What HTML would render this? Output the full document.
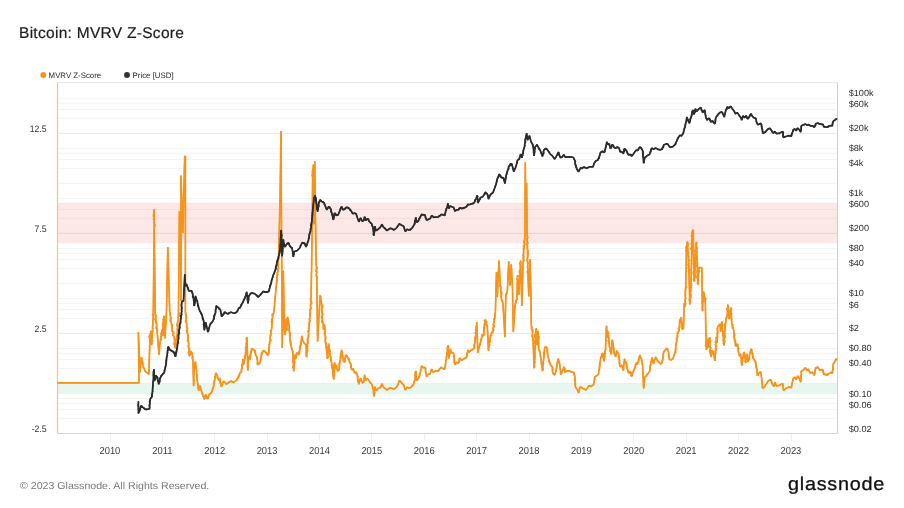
<!DOCTYPE html>
<html><head><meta charset="utf-8"><title>Bitcoin: MVRV Z-Score</title>
<style>
html,body{margin:0;padding:0;background:#fff}
body{width:904px;height:508px;position:relative;overflow:hidden;font-family:"Liberation Sans",sans-serif;text-rendering:geometricPrecision}
svg text{text-rendering:geometricPrecision}
.t{position:absolute;white-space:nowrap;transform-origin:0 0}
#title{left:19.0px;top:24.63px;font-size:15.5px;line-height:18px;color:#1d1d1d;letter-spacing:0.29px;-webkit-text-stroke:0.2px #1d1d1d}
.lg{top:71.28px;font-size:7.85px;line-height:10px;color:#2a2a2a}
#foot{left:19.6px;top:480.53px;font-size:10.0px;line-height:12px;color:#777;transform:scaleX(1.06)}
#logo{left:788.0px;top:471.59px;font-size:18.5px;line-height:24px;color:#111;letter-spacing:0.7px;transform:scaleX(1.07);-webkit-text-stroke:0.3px #111}
</style></head>
<body>
<svg width="904" height="508" viewBox="0 0 904 508" style="position:absolute;left:0;top:0">
<rect x="57.5" y="203.30" width="780.0" height="40.00" fill="#fde8e8"/>
<rect x="57.5" y="383.70" width="780.0" height="10.60" fill="#e7f6ef"/>
<line x1="58.0" x2="837.5" y1="418.42" y2="418.42" stroke="#000" stroke-opacity="0.052" stroke-width="1"/>
<line x1="58.0" x2="837.5" y1="409.62" y2="409.62" stroke="#000" stroke-opacity="0.052" stroke-width="1"/>
<line x1="58.0" x2="837.5" y1="403.37" y2="403.37" stroke="#000" stroke-opacity="0.052" stroke-width="1"/>
<line x1="58.0" x2="837.5" y1="398.52" y2="398.52" stroke="#000" stroke-opacity="0.052" stroke-width="1"/>
<line x1="58.0" x2="837.5" y1="383.46" y2="383.46" stroke="#000" stroke-opacity="0.052" stroke-width="1"/>
<line x1="58.0" x2="837.5" y1="368.40" y2="368.40" stroke="#000" stroke-opacity="0.052" stroke-width="1"/>
<line x1="58.0" x2="837.5" y1="359.60" y2="359.60" stroke="#000" stroke-opacity="0.052" stroke-width="1"/>
<line x1="58.0" x2="837.5" y1="353.35" y2="353.35" stroke="#000" stroke-opacity="0.052" stroke-width="1"/>
<line x1="58.0" x2="837.5" y1="348.50" y2="348.50" stroke="#000" stroke-opacity="0.052" stroke-width="1"/>
<line x1="58.0" x2="837.5" y1="333.44" y2="333.44" stroke="#000" stroke-opacity="0.052" stroke-width="1"/>
<line x1="58.0" x2="837.5" y1="318.38" y2="318.38" stroke="#000" stroke-opacity="0.052" stroke-width="1"/>
<line x1="58.0" x2="837.5" y1="309.58" y2="309.58" stroke="#000" stroke-opacity="0.052" stroke-width="1"/>
<line x1="58.0" x2="837.5" y1="303.33" y2="303.33" stroke="#000" stroke-opacity="0.052" stroke-width="1"/>
<line x1="58.0" x2="837.5" y1="298.48" y2="298.48" stroke="#000" stroke-opacity="0.052" stroke-width="1"/>
<line x1="58.0" x2="837.5" y1="283.42" y2="283.42" stroke="#000" stroke-opacity="0.052" stroke-width="1"/>
<line x1="58.0" x2="837.5" y1="268.36" y2="268.36" stroke="#000" stroke-opacity="0.052" stroke-width="1"/>
<line x1="58.0" x2="837.5" y1="259.56" y2="259.56" stroke="#000" stroke-opacity="0.052" stroke-width="1"/>
<line x1="58.0" x2="837.5" y1="253.31" y2="253.31" stroke="#000" stroke-opacity="0.052" stroke-width="1"/>
<line x1="58.0" x2="837.5" y1="248.46" y2="248.46" stroke="#000" stroke-opacity="0.052" stroke-width="1"/>
<line x1="58.0" x2="837.5" y1="233.40" y2="233.40" stroke="#000" stroke-opacity="0.052" stroke-width="1"/>
<line x1="58.0" x2="837.5" y1="218.34" y2="218.34" stroke="#000" stroke-opacity="0.052" stroke-width="1"/>
<line x1="58.0" x2="837.5" y1="209.54" y2="209.54" stroke="#000" stroke-opacity="0.052" stroke-width="1"/>
<line x1="58.0" x2="837.5" y1="203.29" y2="203.29" stroke="#000" stroke-opacity="0.052" stroke-width="1"/>
<line x1="58.0" x2="837.5" y1="198.44" y2="198.44" stroke="#000" stroke-opacity="0.052" stroke-width="1"/>
<line x1="58.0" x2="837.5" y1="183.38" y2="183.38" stroke="#000" stroke-opacity="0.052" stroke-width="1"/>
<line x1="58.0" x2="837.5" y1="168.32" y2="168.32" stroke="#000" stroke-opacity="0.052" stroke-width="1"/>
<line x1="58.0" x2="837.5" y1="159.52" y2="159.52" stroke="#000" stroke-opacity="0.052" stroke-width="1"/>
<line x1="58.0" x2="837.5" y1="153.27" y2="153.27" stroke="#000" stroke-opacity="0.052" stroke-width="1"/>
<line x1="58.0" x2="837.5" y1="148.42" y2="148.42" stroke="#000" stroke-opacity="0.052" stroke-width="1"/>
<line x1="58.0" x2="837.5" y1="133.36" y2="133.36" stroke="#000" stroke-opacity="0.052" stroke-width="1"/>
<line x1="58.0" x2="837.5" y1="118.30" y2="118.30" stroke="#000" stroke-opacity="0.052" stroke-width="1"/>
<line x1="58.0" x2="837.5" y1="109.50" y2="109.50" stroke="#000" stroke-opacity="0.052" stroke-width="1"/>
<line x1="58.0" x2="837.5" y1="103.25" y2="103.25" stroke="#000" stroke-opacity="0.052" stroke-width="1"/>
<line x1="58.0" x2="837.5" y1="98.4" y2="98.4" stroke="#000" stroke-opacity="0.04" stroke-width="1"/>
<line x1="58.0" x2="837.5" y1="133.30" y2="133.30" stroke="#000" stroke-opacity="0.05" stroke-width="1"/>
<line x1="58.0" x2="837.5" y1="233.30" y2="233.30" stroke="#000" stroke-opacity="0.05" stroke-width="1"/>
<line x1="58.0" x2="837.5" y1="333.30" y2="333.30" stroke="#000" stroke-opacity="0.05" stroke-width="1"/>
<line x1="57.5" x2="837.5" y1="82.5" y2="82.5" stroke="#e8e8e8" stroke-width="1"/>
<line x1="837.5" x2="837.5" y1="82.5" y2="433.3" stroke="#cfcfcf" stroke-width="1"/>
<line x1="57.5" x2="837.5" y1="433.5" y2="433.5" stroke="#d4d4d4" stroke-width="1"/>
<line x1="57.5" x2="57.5" y1="82.5" y2="433.3" stroke="#fbc27f" stroke-width="1.2"/>
<line x1="110.50" x2="110.50" y1="434" y2="441.5" stroke="#f0f0f0" stroke-width="1"/>
<line x1="162.50" x2="162.50" y1="434" y2="441.5" stroke="#f0f0f0" stroke-width="1"/>
<line x1="214.50" x2="214.50" y1="434" y2="441.5" stroke="#f0f0f0" stroke-width="1"/>
<line x1="267.50" x2="267.50" y1="434" y2="441.5" stroke="#f0f0f0" stroke-width="1"/>
<line x1="319.50" x2="319.50" y1="434" y2="441.5" stroke="#f0f0f0" stroke-width="1"/>
<line x1="371.50" x2="371.50" y1="434" y2="441.5" stroke="#f0f0f0" stroke-width="1"/>
<line x1="424.50" x2="424.50" y1="434" y2="441.5" stroke="#f0f0f0" stroke-width="1"/>
<line x1="476.50" x2="476.50" y1="434" y2="441.5" stroke="#f0f0f0" stroke-width="1"/>
<line x1="529.50" x2="529.50" y1="434" y2="441.5" stroke="#f0f0f0" stroke-width="1"/>
<line x1="581.50" x2="581.50" y1="434" y2="441.5" stroke="#f0f0f0" stroke-width="1"/>
<line x1="633.50" x2="633.50" y1="434" y2="441.5" stroke="#f0f0f0" stroke-width="1"/>
<line x1="686.50" x2="686.50" y1="434" y2="441.5" stroke="#f0f0f0" stroke-width="1"/>
<line x1="738.50" x2="738.50" y1="434" y2="441.5" stroke="#f0f0f0" stroke-width="1"/>
<line x1="791.50" x2="791.50" y1="434" y2="441.5" stroke="#f0f0f0" stroke-width="1"/>
<path d="M57.5 382.9 L139.0 382.9 L138.4 332.1 L139.4 358.6 L139.8 372.4 L141.3 357.3 L142.6 364.9 L145.1 371.2 L148.9 374.3 L149.9 338.4 L150.8 330.9 L151.7 344.8 L152.7 324.6 L153.3 312.0 L154.1 228.1 L154.2 209.2 L154.3 234.4 L155.2 312.0 L157.1 330.9 L159.0 354.8 L160.2 341.0 L162.1 329.6 L163.0 335.9 L164.0 315.8 L165.0 338.4 L166.5 312.0 L167.8 247.0 L169.7 312.0 L172.2 329.6 L174.1 337.2 L175.3 348.5 L177.2 333.4 L178.5 312.0 L179.4 211.1 L180.8 268.1 L181.0 300.9 L181.0 175.4 L182.9 233.1 L184.7 156.3 L185.4 156.3 L185.4 312.0 L186.7 324.6 L188.6 343.5 L189.2 356.1 L191.1 351.0 L192.3 355.4 L193.0 360.4 L193.6 386.2 L194.2 366.7 L195.5 361.6 L196.5 373.0 L197.6 383.0 L198.6 390.6 L199.9 385.6 L201.8 391.9 L204.3 399.4 L205.6 394.4 L207.5 398.8 L209.3 394.4 L211.9 391.9 L213.8 385.6 L215.6 373.0 L217.2 375.5 L218.8 380.5 L219.7 378.0 L221.3 386.8 L223.8 381.1 L226.3 384.3 L230.8 381.1 L233.3 382.4 L237.1 379.9 L239.6 373.6 L241.5 371.7 L243.0 359.1 L243.0 364.9 L244.3 362.4 L245.5 353.6 L247.0 337.2 L247.8 370.6 L248.7 356.1 L249.9 359.9 L251.8 348.5 L254.3 349.8 L255.6 354.8 L257.1 357.3 L257.9 364.9 L260.0 362.4 L261.3 356.1 L263.1 350.4 L265.7 352.3 L267.6 355.4 L268.8 352.3 L270.1 338.4 L271.7 328.4 L272.6 317.0 L273.9 312.0 L276.0 288.3 L277.0 277.0 L278.3 266.9 L279.5 221.8 L280.1 196.6 L281.0 131.1 L281.5 228.1 L281.8 273.2 L282.2 347.9 L283.3 270.7 L284.3 324.6 L284.6 334.7 L285.8 319.6 L286.4 330.9 L287.7 317.0 L289.0 324.6 L290.2 342.2 L291.5 347.3 L292.8 352.3 L293.8 371.2 L294.6 354.8 L295.9 358.6 L297.2 352.3 L299.1 354.8 L300.3 346.0 L301.9 335.9 L302.8 341.0 L304.7 343.5 L306.0 344.8 L306.6 357.3 L307.2 344.8 L308.5 334.7 L309.1 324.6 L310.4 312.0 L311.0 298.4 L311.6 266.9 L312.3 221.8 L312.6 177.3 L313.3 164.7 L314.0 224.3 L314.8 160.9 L315.5 221.8 L316.1 260.6 L316.8 279.5 L317.6 341.6 L320.1 295.2 L321.7 304.7 L322.4 319.6 L323.6 329.6 L324.6 324.6 L325.5 342.2 L326.8 352.3 L327.6 358.6 L328.6 343.5 L329.6 352.3 L331.2 359.9 L332.4 368.7 L333.7 379.4 L334.7 362.4 L335.6 368.7 L336.4 364.9 L337.5 371.2 L339.0 369.9 L340.2 359.9 L341.5 349.8 L342.5 354.8 L343.4 361.1 L344.4 362.4 L345.6 354.8 L347.5 357.3 L349.4 361.1 L350.7 363.6 L351.6 369.9 L353.2 368.7 L354.5 372.4 L356.0 373.7 L356.0 371.7 L357.3 375.5 L358.8 384.3 L360.4 378.0 L362.3 383.0 L363.8 381.8 L364.6 374.9 L365.8 380.5 L367.6 378.6 L369.6 381.8 L371.7 384.3 L373.0 388.1 L373.9 396.3 L374.9 386.8 L376.1 390.6 L378.7 388.1 L380.6 387.4 L381.8 383.7 L383.7 387.4 L386.9 390.0 L389.4 388.1 L391.9 388.1 L393.8 389.3 L396.3 387.4 L398.2 384.3 L399.4 380.5 L401.3 382.4 L403.6 384.9 L405.4 390.0 L407.0 387.4 L408.9 388.1 L411.4 386.8 L413.7 383.7 L414.9 379.3 L415.8 371.1 L416.7 380.5 L418.3 378.6 L420.2 373.0 L421.5 366.0 L423.4 367.9 L425.0 367.3 L426.5 376.8 L428.4 374.2 L430.1 373.6 L431.6 369.2 L433.5 372.3 L435.4 371.1 L438.5 371.1 L441.0 367.3 L442.9 368.6 L444.8 369.2 L445.7 362.9 L446.9 354.1 L447.9 345.3 L448.9 358.5 L450.2 349.0 L451.7 352.8 L453.6 353.4 L454.9 364.8 L456.8 362.3 L458.6 362.9 L459.9 357.9 L461.8 360.4 L464.3 358.5 L466.6 357.2 L467.8 350.3 L469.0 350.9 L469.0 352.3 L471.5 349.8 L474.0 348.5 L475.3 339.7 L476.8 322.1 L477.8 352.9 L479.1 347.3 L481.0 341.0 L482.2 334.7 L483.5 335.9 L485.4 319.6 L487.3 325.9 L488.5 351.0 L489.8 338.4 L491.7 332.8 L492.9 330.9 L494.2 320.8 L495.4 312.0 L496.5 271.9 L497.3 297.1 L499.0 260.6 L500.2 284.5 L501.5 298.4 L503.0 303.4 L504.9 337.2 L505.8 295.9 L507.4 290.8 L508.7 261.2 L509.9 285.8 L511.2 264.4 L512.5 288.3 L513.3 332.1 L515.0 305.9 L516.9 298.4 L517.5 275.1 L518.8 294.6 L519.8 277.0 L520.6 260.6 L521.9 305.9 L522.9 266.9 L523.8 250.5 L525.0 234.4 L525.3 162.2 L525.5 186.0 L526.6 183.0 L527.1 234.0 L527.6 255.6 L527.9 273.2 L528.8 296.5 L530.1 259.3 L531.0 298.4 L531.3 325.9 L532.6 333.4 L533.2 343.5 L534.1 368.1 L535.1 347.3 L536.0 328.4 L537.0 344.8 L538.0 330.9 L538.9 349.8 L540.2 353.6 L541.4 362.4 L542.4 371.2 L543.6 359.9 L544.6 348.5 L546.1 346.6 L547.1 348.5 L548.1 357.3 L549.6 362.4 L550.9 365.5 L551.9 366.2 L553.1 373.7 L554.6 375.0 L555.9 371.2 L557.2 363.6 L558.4 358.6 L559.7 364.9 L560.9 374.3 L562.5 371.2 L564.1 366.8 L565.0 372.4 L566.6 371.2 L568.5 370.9 L571.0 371.8 L573.5 372.4 L574.8 376.0 L575.5 387.1 L577.1 389.6 L578.8 392.8 L580.0 387.1 L581.8 387.8 L584.1 389.0 L586.2 389.9 L588.9 385.6 L591.0 386.5 L593.5 384.9 L594.8 377.0 L596.7 375.8 L598.6 373.9 L599.8 363.2 L601.1 356.9 L602.7 353.1 L604.0 361.3 L605.5 348.1 L606.5 325.9 L607.4 337.9 L608.3 331.6 L609.3 345.4 L610.3 349.2 L611.1 354.4 L612.4 339.8 L613.7 350.6 L615.6 356.9 L616.8 350.6 L618.7 354.4 L620.0 367.0 L621.9 365.1 L623.4 370.8 L624.4 358.8 L625.9 361.9 L627.5 369.5 L628.8 373.3 L630.3 371.4 L631.6 376.4 L633.2 372.0 L634.8 368.2 L636.3 362.6 L637.6 364.4 L638.9 358.1 L639.9 355.0 L641.4 358.8 L642.6 365.1 L643.6 388.4 L644.8 377.0 L646.4 375.8 L648.3 373.3 L649.6 371.4 L650.8 362.6 L652.1 357.5 L653.4 363.8 L655.6 356.9 L657.1 360.0 L660.3 363.8 L662.2 362.6 L663.7 351.9 L665.3 350.0 L666.6 348.1 L668.2 350.6 L669.5 359.4 L671.0 360.0 L672.9 358.8 L674.8 353.7 L675.7 348.0 L677.5 334.3 L679.1 330.5 L679.7 320.4 L681.3 317.3 L682.3 329.2 L683.5 328.6 L684.2 302.9 L684.9 307.0 L685.7 285.9 L686.4 252.0 L687.0 242.0 L687.6 242.0 L688.3 258.3 L689.0 273.0 L689.8 304.5 L691.0 284.0 L691.7 252.0 L692.0 232.0 L693.3 229.8 L693.6 260.0 L694.2 281.6 L694.9 273.0 L695.5 252.0 L696.4 242.0 L696.9 255.0 L697.4 270.0 L698.0 284.6 L699.0 267.5 L701.8 267.7 L702.4 311.1 L703.7 291.6 L705.3 300.4 L705.9 334.9 L706.5 350.0 L707.5 340.0 L708.3 347.6 L709.0 340.0 L709.7 337.4 L710.3 352.6 L710.9 357.0 L712.1 350.1 L713.4 353.9 L714.9 360.8 L715.7 347.5 L716.3 336.8 L717.1 342.9 L717.8 326.5 L719.7 324.0 L720.9 331.6 L721.8 321.5 L722.8 331.6 L724.1 345.4 L725.1 327.8 L726.0 320.2 L727.2 315.2 L727.9 304.5 L729.1 319.0 L730.8 307.6 L731.9 324.0 L733.5 329.0 L734.4 339.1 L735.4 344.2 L736.0 346.3 L737.3 343.8 L738.6 352.6 L739.8 356.4 L740.7 353.9 L741.7 365.8 L743.0 356.4 L744.2 352.0 L745.7 362.7 L746.8 353.9 L748.0 362.0 L749.3 356.4 L751.2 348.8 L752.4 355.1 L753.7 358.9 L755.6 361.4 L756.8 370.2 L757.5 375.9 L758.7 373.4 L760.6 371.5 L761.6 377.8 L762.5 387.9 L764.4 387.2 L766.3 384.1 L768.2 380.9 L770.7 379.7 L771.9 383.4 L773.8 386.6 L775.1 382.2 L776.4 386.0 L779.5 385.3 L782.6 383.4 L783.5 390.4 L785.8 388.5 L788.3 387.2 L791.5 387.6 L792.5 381.6 L793.0 380.3 L792.9 379.0 L794.6 377.1 L796.2 379.7 L797.7 375.9 L799.6 379.0 L800.6 382.2 L801.5 370.9 L803.4 370.2 L805.3 367.7 L807.2 370.9 L808.4 369.0 L810.3 373.4 L812.2 372.1 L814.3 375.3 L815.6 367.7 L817.9 367.1 L819.8 370.2 L822.9 369.6 L823.8 374.6 L825.4 374.0 L826.9 375.3 L829.2 373.4 L831.1 372.1 L832.4 373.4 L833.2 363.9 L834.9 361.4 L836.1 358.9 L837.1 360.1" fill="none" stroke="#f7931a" stroke-width="1.7" stroke-linejoin="bevel" stroke-linecap="butt"/>
<path d="M57.5 382.9 L139.0 382.9 L138.4 332.1 L139.4 358.6 L139.8 359.8 L140.2 361.1 L139.3 362.4 L140.4 363.6 L139.6 364.9 L139.9 366.1 L140.5 367.4 L139.7 368.7 L140.5 369.9 L139.9 371.2 L139.8 372.4 L139.2 371.1 L139.4 369.9 L140.1 368.7 L140.9 367.5 L139.8 366.1 L140.1 364.8 L140.9 363.7 L141.7 362.5 L141.1 361.1 L140.9 359.8 L142.2 358.7 L141.3 357.3 L142.4 358.5 L141.1 360.0 L142.4 361.1 L142.8 362.3 L143.1 363.5 L142.6 364.9 L143.4 366.0 L143.1 367.6 L144.6 368.5 L144.5 370.0 L145.1 371.2 L145.9 372.2 L147.1 372.6 L147.9 373.6 L148.9 374.3 L149.9 338.4 L149.0 337.1 L149.1 335.8 L149.6 334.6 L150.9 333.5 L150.5 332.1 L150.8 330.9 L151.3 332.1 L150.7 333.4 L151.1 334.7 L151.6 335.9 L150.5 337.2 L150.8 338.5 L152.0 339.7 L151.2 341.0 L151.4 342.2 L150.7 343.5 L151.7 344.8 L152.3 343.5 L151.3 342.2 L153.0 341.0 L151.0 339.7 L151.8 338.4 L152.7 337.2 L151.3 335.9 L152.1 334.7 L151.1 333.4 L152.7 332.2 L153.0 330.9 L152.6 329.6 L153.4 328.4 L152.1 327.1 L153.1 325.9 L152.7 324.6 L153.0 323.3 L153.0 322.1 L152.8 320.8 L153.7 319.6 L154.1 318.3 L153.0 317.0 L153.5 315.8 L152.1 314.5 L153.7 313.3 L153.3 312.0 L154.1 228.1 L154.4 226.8 L155.3 225.6 L154.9 224.3 L153.6 223.0 L153.8 221.8 L154.5 220.5 L153.0 219.3 L154.0 218.0 L153.3 216.7 L153.2 215.5 L153.1 214.2 L154.8 213.0 L153.3 211.7 L153.6 210.4 L154.2 209.2 L154.3 234.4 L155.2 312.0 L155.6 313.2 L154.6 314.6 L156.6 315.7 L155.8 317.0 L155.7 318.3 L155.0 319.6 L155.3 320.9 L155.3 322.2 L156.9 323.3 L156.7 324.6 L156.9 325.8 L155.8 327.2 L155.7 328.5 L157.8 329.5 L157.1 330.9 L159.0 354.8 L158.4 353.5 L158.6 352.2 L158.7 351.0 L159.4 349.8 L159.7 348.5 L159.1 347.2 L158.6 345.9 L159.7 344.7 L159.7 343.5 L160.3 342.2 L160.2 341.0 L161.5 339.9 L161.1 338.5 L160.9 337.2 L161.3 336.0 L161.7 334.7 L160.4 333.2 L162.6 332.3 L162.6 331.0 L162.1 329.6 L161.4 331.0 L161.8 332.2 L162.9 333.4 L163.1 334.6 L163.0 335.9 L162.1 334.6 L163.4 333.4 L162.1 332.1 L162.2 330.8 L162.6 329.6 L162.6 328.3 L163.1 327.1 L162.4 325.8 L162.4 324.5 L162.8 323.3 L162.7 322.0 L163.4 320.8 L162.7 319.5 L164.8 318.3 L164.2 317.1 L164.0 315.8 L165.0 338.4 L166.5 312.0 L167.8 247.0 L169.7 312.0 L170.7 313.1 L170.6 314.4 L170.6 315.7 L170.7 317.0 L171.5 318.2 L169.9 319.7 L169.8 321.0 L171.2 322.1 L171.3 323.3 L172.5 324.5 L172.6 325.7 L172.2 327.1 L172.6 328.3 L172.2 329.6 L171.7 331.1 L173.6 332.0 L174.2 333.1 L172.4 334.9 L173.7 335.9 L174.1 337.2 L175.1 338.4 L174.3 339.7 L175.6 340.8 L174.6 342.2 L173.7 343.6 L174.1 344.8 L174.6 346.1 L175.7 347.2 L175.3 348.5 L175.2 347.2 L174.9 345.9 L176.4 344.8 L176.0 343.5 L176.8 342.3 L175.9 340.9 L175.8 339.6 L177.3 338.5 L177.9 337.3 L177.8 336.0 L177.8 334.8 L177.2 333.4 L178.1 332.1 L178.0 330.8 L176.8 329.4 L177.6 328.1 L177.3 326.7 L176.6 325.3 L176.7 324.0 L177.3 322.7 L177.4 321.3 L178.5 320.1 L179.2 318.8 L178.0 317.3 L179.3 316.1 L179.5 314.7 L179.5 313.4 L178.5 312.0 L179.4 211.1 L180.8 268.1 L181.0 300.9 L181.0 175.4 L182.9 233.1 L184.7 156.3 L185.4 156.3 L185.4 312.0 L185.9 313.2 L186.3 314.5 L186.5 315.7 L186.6 317.0 L186.8 318.2 L185.9 319.6 L185.3 320.9 L185.6 322.2 L186.6 323.3 L186.7 324.6 L186.4 325.9 L186.2 327.2 L188.0 328.3 L186.8 329.7 L186.3 331.0 L186.8 332.2 L187.0 333.5 L187.7 334.7 L188.6 335.9 L187.2 337.3 L188.5 338.4 L187.5 339.8 L187.2 341.1 L188.7 342.2 L188.6 343.5 L188.9 344.7 L187.7 346.1 L188.2 347.3 L189.5 348.5 L189.7 349.7 L189.7 351.0 L188.1 352.3 L188.4 353.6 L189.9 354.8 L189.2 356.1 L190.3 355.1 L191.1 353.9 L190.9 352.4 L191.1 351.0 L191.7 352.1 L191.6 353.3 L192.8 354.1 L192.3 355.4 L193.5 356.6 L191.7 358.0 L192.5 359.2 L193.0 360.4 L193.6 386.2 L193.7 384.9 L194.3 383.6 L193.6 382.3 L194.3 381.0 L194.3 379.7 L193.4 378.4 L193.5 377.1 L193.6 375.8 L193.6 374.5 L194.2 373.2 L193.7 371.9 L194.0 370.6 L193.5 369.3 L194.9 368.0 L194.2 366.7 L194.3 365.3 L194.8 364.1 L195.3 362.9 L195.5 361.6 L194.8 363.0 L195.9 364.1 L195.1 365.5 L195.9 366.7 L196.0 367.9 L196.1 369.2 L197.1 370.4 L196.5 371.7 L196.5 373.0 L197.1 374.2 L197.6 375.4 L196.5 376.8 L197.6 377.9 L197.2 379.3 L197.0 380.6 L197.4 381.8 L197.6 383.0 L198.0 384.3 L197.9 385.6 L198.1 386.8 L197.9 388.1 L199.0 389.3 L198.6 390.6 L199.0 389.4 L198.9 388.0 L199.3 386.7 L199.9 385.6 L199.9 386.9 L200.6 388.1 L201.0 389.4 L201.1 390.7 L201.8 391.9 L201.7 393.3 L202.7 394.4 L202.9 395.7 L203.5 396.9 L203.9 398.2 L204.3 399.4 L204.9 398.2 L204.9 396.9 L205.3 395.7 L205.6 394.4 L206.1 395.5 L205.9 396.8 L206.7 397.8 L207.5 398.8 L208.4 397.9 L209.0 396.8 L208.6 395.3 L209.3 394.4 L210.2 393.6 L211.5 393.1 L211.9 391.9 L212.7 390.7 L212.1 389.2 L212.5 387.9 L213.3 386.8 L213.8 385.6 L213.3 384.2 L213.8 383.0 L213.7 381.7 L214.8 380.6 L215.1 379.3 L215.5 378.1 L214.5 376.7 L215.6 375.5 L215.7 374.3 L215.6 373.0 L216.9 373.9 L217.2 375.5 L217.0 376.9 L217.3 378.2 L218.8 379.1 L218.8 380.5 L219.9 379.5 L219.7 378.0 L220.1 379.2 L220.2 380.5 L219.7 381.9 L220.1 383.1 L221.3 384.2 L221.2 385.5 L221.3 386.8 L221.8 385.7 L222.1 384.5 L222.4 383.2 L223.1 382.2 L223.8 381.1 L224.4 382.4 L226.0 382.8 L226.3 384.3 L227.5 383.6 L228.5 382.7 L229.3 381.4 L230.8 381.1 L232.1 381.6 L233.3 382.4 L234.6 381.7 L235.8 380.7 L237.1 379.9 L236.9 378.4 L238.7 377.7 L239.0 376.3 L239.8 375.1 L239.6 373.6 L240.1 372.2 L241.5 371.7 L241.2 370.4 L241.0 369.1 L242.4 368.0 L241.7 366.6 L241.5 365.3 L242.2 364.1 L243.3 363.0 L243.3 361.7 L242.4 360.3 L243.0 359.1 L243.7 360.6 L242.2 362.0 L242.9 363.5 L243.0 364.9 L244.0 363.8 L244.3 362.4 L243.7 361.0 L243.8 359.7 L245.2 358.7 L244.8 357.3 L244.3 356.0 L246.2 354.9 L245.5 353.6 L245.9 352.3 L246.4 351.1 L245.0 349.7 L246.8 348.6 L245.1 347.2 L247.0 346.1 L246.2 344.7 L246.1 343.5 L246.7 342.2 L247.7 341.1 L246.2 339.7 L246.0 338.4 L247.0 337.2 L247.8 370.6 L247.9 369.2 L247.5 367.9 L247.3 366.6 L247.5 365.3 L247.4 363.9 L247.7 362.6 L248.0 361.3 L248.1 360.0 L249.0 358.7 L248.2 357.4 L248.7 356.1 L249.1 357.3 L250.1 358.4 L249.9 359.9 L249.8 358.6 L249.4 357.2 L250.1 356.0 L249.8 354.7 L251.5 353.6 L251.3 352.3 L250.7 350.9 L251.6 349.8 L251.8 348.5 L252.6 350.0 L254.3 349.8 L255.5 350.8 L254.3 352.5 L255.4 353.5 L255.6 354.8 L256.4 356.1 L257.1 357.3 L256.6 358.7 L257.6 359.8 L257.5 361.1 L257.3 362.4 L256.8 363.7 L257.9 364.9 L258.4 363.9 L259.8 363.6 L260.0 362.4 L260.6 361.2 L260.8 359.9 L260.6 358.6 L260.7 357.3 L261.3 356.1 L260.8 354.7 L261.3 353.6 L261.5 352.4 L263.3 351.7 L263.1 350.4 L264.7 350.9 L265.7 352.3 L266.9 353.0 L267.7 354.0 L267.6 355.4 L268.6 354.7 L269.1 353.6 L268.8 352.3 L269.3 351.1 L268.6 349.7 L268.6 348.5 L268.8 347.2 L269.3 346.0 L268.7 344.7 L269.5 343.5 L269.2 342.2 L271.0 341.1 L271.1 339.8 L270.1 338.4 L270.4 337.2 L269.9 335.8 L271.8 334.8 L270.4 333.3 L270.8 332.1 L270.1 330.7 L271.2 329.6 L271.7 328.4 L271.8 327.1 L271.9 325.9 L271.3 324.5 L272.1 323.3 L271.0 322.0 L271.7 320.8 L271.4 319.5 L272.3 318.3 L272.6 317.0 L271.8 315.5 L272.1 314.2 L273.1 313.1 L273.9 312.0 L276.0 288.3 L275.5 287.0 L276.4 285.8 L276.4 284.5 L277.0 283.3 L276.9 282.0 L277.2 280.8 L277.7 279.6 L276.6 278.2 L277.0 277.0 L276.8 275.7 L278.5 274.6 L276.6 273.1 L278.2 272.0 L278.1 270.7 L276.9 269.3 L278.9 268.2 L278.3 266.9 L279.5 221.8 L280.1 196.6 L281.0 131.1 L281.5 228.1 L281.8 273.2 L282.2 347.9 L283.3 270.7 L284.3 324.6 L283.4 325.9 L284.1 327.1 L283.8 328.4 L283.7 329.6 L285.3 330.9 L284.4 332.2 L284.5 333.4 L284.6 334.7 L285.5 333.5 L285.5 332.2 L285.7 331.0 L285.2 329.7 L286.0 328.5 L285.6 327.2 L285.8 325.9 L284.8 324.5 L284.4 323.2 L284.7 322.0 L285.4 320.8 L285.8 319.6 L286.8 320.8 L285.2 322.1 L285.9 323.3 L285.8 324.6 L285.9 325.9 L285.8 327.1 L286.3 328.4 L287.6 329.6 L286.4 330.9 L287.3 329.7 L287.3 328.4 L286.8 327.1 L287.0 325.9 L287.4 324.6 L286.1 323.2 L287.8 322.1 L286.8 320.8 L286.5 319.5 L287.0 318.2 L287.7 317.0 L287.4 318.4 L288.8 319.4 L287.8 320.9 L287.4 322.3 L288.8 323.3 L289.0 324.6 L289.3 325.8 L289.2 327.1 L288.8 328.4 L288.7 329.7 L289.1 330.9 L289.2 332.2 L290.6 333.3 L290.5 334.6 L290.4 335.9 L289.3 337.2 L290.4 338.4 L289.9 339.7 L291.3 340.9 L290.2 342.2 L291.5 343.2 L291.4 344.6 L290.8 346.1 L291.5 347.3 L291.4 348.6 L291.7 349.9 L292.9 350.9 L292.8 352.3 L292.8 353.6 L293.0 354.8 L293.0 356.1 L293.8 357.3 L292.3 358.6 L293.7 359.8 L292.3 361.2 L292.5 362.4 L294.3 363.6 L293.5 364.9 L292.9 366.2 L292.7 367.5 L293.7 368.7 L294.1 369.9 L293.8 371.2 L293.3 369.9 L294.7 368.7 L293.5 367.4 L294.2 366.2 L293.4 364.9 L294.2 363.6 L295.1 362.4 L293.6 361.1 L295.0 359.9 L294.5 358.6 L295.3 357.4 L295.0 356.1 L294.6 354.8 L295.6 355.9 L294.7 357.6 L295.9 358.6 L296.1 357.3 L295.5 355.9 L295.6 354.6 L296.9 353.6 L297.2 352.3 L298.2 353.5 L299.1 354.8 L298.8 353.5 L298.6 352.2 L299.3 351.0 L299.4 349.7 L300.7 348.6 L299.0 347.1 L300.3 346.0 L301.1 344.8 L301.5 343.6 L300.0 342.1 L302.1 341.1 L301.8 339.8 L302.5 338.6 L301.2 337.1 L301.9 335.9 L302.5 337.1 L302.6 338.4 L301.4 339.9 L302.8 341.0 L303.6 342.4 L304.7 343.5 L306.0 344.8 L306.4 346.0 L306.3 347.3 L306.7 348.5 L307.2 349.7 L307.1 351.0 L305.6 352.3 L306.9 353.5 L305.6 354.9 L307.0 356.1 L306.6 357.3 L306.2 356.1 L306.7 354.8 L306.1 353.5 L306.6 352.3 L307.9 351.1 L307.8 349.8 L307.7 348.6 L307.4 347.3 L308.1 346.1 L307.2 344.8 L308.4 343.6 L307.7 342.2 L308.2 341.0 L306.8 339.6 L308.6 338.5 L308.1 337.2 L308.9 336.0 L308.5 334.7 L308.9 333.4 L308.1 332.1 L307.6 330.8 L309.8 329.7 L308.0 328.3 L308.9 327.1 L308.7 325.8 L309.1 324.6 L308.8 323.3 L309.9 322.1 L310.6 320.9 L309.1 319.5 L310.1 318.3 L309.4 317.0 L310.1 315.8 L309.9 314.5 L309.5 313.2 L310.4 312.0 L309.6 310.6 L309.8 309.2 L311.5 308.0 L310.6 306.6 L310.0 305.2 L311.7 303.9 L312.0 302.5 L310.8 301.1 L310.1 299.7 L311.0 298.4 L311.6 266.9 L312.3 221.8 L312.6 177.3 L312.0 176.0 L311.8 174.7 L312.5 173.5 L311.9 172.2 L312.3 171.0 L312.4 169.7 L313.3 168.5 L314.1 167.3 L313.8 166.0 L313.3 164.7 L314.0 224.3 L314.8 160.9 L315.5 221.8 L316.1 260.6 L316.3 261.8 L316.4 263.1 L316.1 264.4 L316.5 265.6 L316.7 266.9 L317.4 268.1 L316.9 269.4 L315.3 270.7 L317.4 271.9 L316.5 273.2 L316.3 274.5 L315.8 275.7 L317.4 276.9 L317.3 278.2 L316.8 279.5 L317.6 341.6 L320.1 295.2 L320.9 296.5 L320.8 297.9 L320.9 299.3 L319.9 300.8 L320.4 302.1 L320.6 303.5 L321.7 304.7 L322.9 306.0 L323.0 307.3 L321.4 308.8 L321.0 310.1 L322.1 311.4 L321.9 312.8 L323.3 314.1 L322.4 315.5 L321.2 316.9 L321.5 318.2 L322.4 319.6 L321.7 320.9 L321.5 322.2 L323.4 323.3 L323.9 324.5 L324.0 325.8 L323.2 327.1 L323.0 328.4 L323.6 329.6 L324.9 328.6 L324.6 327.2 L324.7 325.9 L324.6 324.6 L324.0 325.9 L324.8 327.1 L324.7 328.4 L326.0 329.6 L324.2 330.9 L325.6 332.1 L324.0 333.5 L324.8 334.7 L325.6 335.9 L326.1 337.1 L325.9 338.4 L325.0 339.7 L325.0 341.0 L325.5 342.2 L326.6 343.4 L326.8 344.6 L325.9 346.0 L325.9 347.3 L326.5 348.5 L327.0 349.7 L326.4 351.1 L326.8 352.3 L327.9 353.4 L327.5 354.8 L327.4 356.1 L326.5 357.5 L327.6 358.6 L328.0 357.4 L328.6 356.1 L327.8 354.8 L327.4 353.5 L327.5 352.3 L329.1 351.1 L328.7 349.8 L327.9 348.5 L327.3 347.2 L328.5 346.0 L329.0 344.8 L328.6 343.5 L329.0 344.7 L329.5 345.9 L328.7 347.3 L328.3 348.6 L330.0 349.7 L330.5 350.9 L329.6 352.3 L330.2 353.5 L330.3 354.8 L330.0 356.2 L331.3 357.2 L330.3 358.7 L331.2 359.9 L330.9 361.2 L331.5 362.4 L332.2 363.6 L331.0 365.0 L332.4 366.1 L331.7 367.5 L332.4 368.7 L333.0 370.0 L333.2 371.3 L332.5 372.7 L333.4 374.0 L332.5 375.5 L333.4 376.7 L334.0 378.0 L333.7 379.4 L333.3 378.0 L333.7 376.8 L334.2 375.5 L334.7 374.2 L333.5 372.8 L334.0 371.5 L333.7 370.2 L335.1 369.0 L333.7 367.6 L333.7 366.3 L333.7 364.9 L334.4 363.7 L334.7 362.4 L334.1 363.7 L334.3 365.0 L334.8 366.2 L334.5 367.5 L335.6 368.7 L336.6 367.6 L335.9 366.1 L336.4 364.9 L337.2 366.1 L336.1 367.5 L336.6 368.7 L338.1 369.8 L337.5 371.2 L338.4 370.8 L339.0 369.9 L338.9 368.6 L339.1 367.4 L339.1 366.1 L339.0 364.8 L338.8 363.5 L339.5 362.3 L339.8 361.1 L340.2 359.9 L341.3 358.7 L339.8 357.2 L341.6 356.2 L340.3 354.7 L340.7 353.5 L341.9 352.4 L342.0 351.1 L341.5 349.8 L341.9 351.0 L342.9 352.1 L342.3 353.5 L342.5 354.8 L342.9 356.0 L342.0 357.5 L343.6 358.5 L343.5 359.8 L343.4 361.1 L344.4 362.4 L345.4 361.2 L343.9 359.7 L344.8 358.6 L345.8 357.4 L346.0 356.2 L345.6 354.8 L347.3 355.5 L347.5 357.3 L349.0 358.2 L349.6 359.5 L349.4 361.1 L349.3 362.7 L350.7 363.6 L351.3 364.8 L350.6 366.2 L350.5 367.5 L351.7 368.6 L351.6 369.9 L352.1 369.0 L353.2 368.7 L352.9 370.2 L353.9 371.3 L354.5 372.4 L355.5 372.8 L356.0 373.7 L356.3 372.7 L356.0 371.7 L356.7 372.9 L357.2 374.1 L357.3 375.5 L358.2 376.6 L357.3 378.1 L357.3 379.4 L357.9 380.6 L357.7 381.9 L359.2 382.9 L358.8 384.3 L358.7 382.9 L359.4 381.8 L360.4 380.7 L360.7 379.4 L360.4 378.0 L361.0 379.2 L361.7 380.4 L361.9 381.7 L362.3 383.0 L363.0 382.4 L363.8 381.8 L364.6 380.5 L363.6 379.0 L364.7 377.7 L364.8 376.3 L364.6 374.9 L364.4 376.4 L364.8 377.8 L365.3 379.1 L365.8 380.5 L366.5 379.4 L367.6 378.6 L368.5 379.5 L369.1 380.6 L369.6 381.8 L370.0 382.9 L371.5 383.1 L371.7 384.3 L372.6 385.4 L372.2 386.9 L373.0 388.1 L373.5 389.4 L373.9 390.7 L374.1 392.1 L373.5 393.5 L374.0 394.9 L373.9 396.3 L374.7 395.0 L374.7 393.6 L375.0 392.3 L374.1 390.8 L374.0 389.5 L374.2 388.1 L374.9 386.8 L375.3 388.1 L375.5 389.4 L376.1 390.6 L376.9 389.7 L377.6 388.7 L378.7 388.1 L379.6 387.7 L380.6 387.4 L381.1 386.2 L381.6 385.0 L381.8 383.7 L382.1 385.1 L382.6 386.4 L383.7 387.4 L384.6 388.5 L386.1 388.7 L386.9 390.0 L388.4 389.4 L389.4 388.1 L390.6 387.8 L391.9 388.1 L392.8 388.8 L393.8 389.3 L394.9 388.3 L396.3 387.4 L397.2 386.6 L397.2 385.1 L398.2 384.3 L398.3 382.9 L398.7 381.7 L399.4 380.5 L400.7 381.1 L401.3 382.4 L401.7 383.6 L402.8 384.2 L403.6 384.9 L404.3 386.1 L404.6 387.4 L404.3 388.9 L405.4 390.0 L406.2 388.7 L407.0 387.4 L408.1 387.4 L408.9 388.1 L410.4 387.8 L411.4 386.8 L412.3 385.9 L413.5 385.1 L413.7 383.7 L413.5 382.4 L414.3 381.5 L415.1 380.5 L414.9 379.3 L415.6 378.0 L415.9 376.6 L414.7 375.1 L415.2 373.8 L415.0 372.4 L415.8 371.1 L416.5 372.4 L415.3 373.8 L416.1 375.1 L415.7 376.5 L416.6 377.8 L416.0 379.2 L416.7 380.5 L417.5 379.5 L418.3 378.6 L418.4 377.4 L419.5 376.5 L420.1 375.5 L419.2 373.9 L420.2 373.0 L420.6 371.6 L420.9 370.2 L420.5 368.7 L421.0 367.4 L421.5 366.0 L422.9 366.5 L423.4 367.9 L425.0 367.3 L425.7 368.6 L425.9 369.9 L425.5 371.4 L425.6 372.7 L426.6 374.0 L427.1 375.3 L426.5 376.8 L427.3 375.3 L428.4 374.2 L430.1 373.6 L430.7 372.6 L430.3 371.2 L430.9 370.2 L431.6 369.2 L432.6 370.0 L432.4 371.5 L433.5 372.3 L434.4 371.8 L435.4 371.1 L436.9 370.3 L438.5 371.1 L438.8 369.4 L440.0 368.5 L441.0 367.3 L441.9 368.0 L442.9 368.6 L443.8 369.1 L444.8 369.2 L444.3 367.8 L444.5 366.6 L445.7 365.5 L445.3 364.1 L445.7 362.9 L445.4 361.6 L445.7 360.3 L447.1 359.2 L446.0 357.8 L446.7 356.6 L446.5 355.3 L446.9 354.1 L446.9 352.8 L448.0 351.6 L448.4 350.4 L447.2 349.0 L447.0 347.7 L448.3 346.6 L447.9 345.3 L448.7 346.5 L449.2 347.8 L447.4 349.3 L448.5 350.5 L447.8 351.9 L448.7 353.2 L447.9 354.6 L448.8 355.8 L449.5 357.1 L448.9 358.5 L448.2 357.0 L449.4 355.8 L449.8 354.5 L450.5 353.2 L449.0 351.6 L450.3 350.4 L450.2 349.0 L451.0 350.2 L451.2 351.6 L451.7 352.8 L452.9 352.4 L453.6 353.4 L454.2 354.7 L453.8 356.0 L453.2 357.3 L454.9 358.4 L454.3 359.7 L453.9 361.1 L453.7 362.4 L455.3 363.5 L454.9 364.8 L455.3 363.1 L456.8 362.3 L457.4 363.4 L458.6 362.9 L459.8 361.9 L459.2 360.4 L458.7 358.9 L459.9 357.9 L460.2 359.6 L461.8 360.4 L462.9 359.2 L464.3 358.5 L465.8 358.6 L466.6 357.2 L467.1 355.9 L467.7 354.6 L466.6 352.9 L468.2 351.8 L467.8 350.3 L469.0 350.9 L469.0 352.3 L469.4 351.0 L470.5 350.5 L471.5 349.8 L473.1 349.8 L474.0 348.5 L475.0 347.4 L473.7 345.9 L473.9 344.7 L474.5 343.5 L475.0 342.2 L474.8 340.9 L475.3 339.7 L474.5 338.4 L474.9 337.1 L476.2 336.0 L476.7 334.8 L474.7 333.3 L476.1 332.2 L476.7 330.9 L475.1 329.5 L477.1 328.4 L475.5 327.0 L476.7 325.9 L476.7 324.6 L477.0 323.4 L476.8 322.1 L477.8 352.9 L477.7 351.4 L478.3 350.1 L478.9 348.7 L479.1 347.3 L479.3 346.0 L480.2 344.8 L480.1 343.5 L480.4 342.2 L481.0 341.0 L480.1 339.5 L481.7 338.5 L481.7 337.2 L481.3 335.8 L482.2 334.7 L483.5 335.9 L484.3 334.7 L484.4 333.5 L483.8 332.1 L483.3 330.8 L484.1 329.6 L483.4 328.3 L483.6 327.0 L484.5 325.8 L483.8 324.5 L484.8 323.3 L485.1 322.1 L484.1 320.7 L485.4 319.6 L485.4 320.9 L487.1 321.8 L486.0 323.5 L486.2 324.8 L487.3 325.9 L488.5 351.0 L488.7 349.8 L487.8 348.4 L488.9 347.3 L488.7 346.0 L490.2 344.8 L488.4 343.4 L490.2 342.3 L490.7 341.1 L490.2 339.8 L489.8 338.4 L490.9 337.6 L489.8 335.9 L492.0 335.4 L491.3 333.9 L491.7 332.8 L493.2 332.4 L492.9 330.9 L494.1 329.8 L492.4 328.3 L494.1 327.2 L494.6 326.0 L492.7 324.5 L493.5 323.3 L494.6 322.2 L494.2 320.8 L493.6 319.4 L495.5 318.4 L494.2 317.0 L495.7 315.9 L494.2 314.4 L495.3 313.3 L495.4 312.0 L496.5 271.9 L497.3 297.1 L499.0 260.6 L500.2 284.5 L499.3 285.9 L501.2 287.0 L501.1 288.2 L500.7 289.6 L501.2 290.8 L502.0 292.0 L501.8 293.3 L502.0 294.5 L500.2 296.0 L500.9 297.2 L501.5 298.4 L501.0 299.9 L503.0 300.7 L502.0 302.4 L503.0 303.4 L504.9 337.2 L505.8 295.9 L505.3 294.3 L506.7 293.4 L507.3 292.2 L507.4 290.8 L508.7 261.2 L509.9 285.8 L509.7 284.4 L511.0 283.2 L510.3 281.8 L510.4 280.4 L511.2 279.1 L509.5 277.7 L511.7 276.5 L510.9 275.1 L510.4 273.7 L511.4 272.4 L510.2 271.0 L512.1 269.8 L511.1 268.4 L510.7 267.0 L511.7 265.7 L511.2 264.4 L512.5 288.3 L513.3 332.1 L515.0 305.9 L515.2 304.6 L514.8 303.2 L516.5 302.3 L515.2 300.6 L517.3 299.8 L516.9 298.4 L517.5 275.1 L518.2 276.3 L517.3 277.7 L516.6 279.1 L517.6 280.3 L517.5 281.6 L518.4 282.9 L519.3 284.1 L519.3 285.4 L519.1 286.7 L518.1 288.1 L518.6 289.4 L518.5 290.7 L517.6 292.1 L519.5 293.2 L518.8 294.6 L518.2 293.3 L519.3 292.1 L517.8 290.8 L517.8 289.5 L518.8 288.3 L518.2 287.0 L518.9 285.8 L518.7 284.5 L519.6 283.3 L519.7 282.0 L518.8 280.7 L519.9 279.5 L519.6 278.2 L519.8 277.0 L519.0 275.7 L520.9 274.5 L519.3 273.2 L519.2 271.9 L519.1 270.6 L520.5 269.4 L521.1 268.2 L521.0 266.9 L520.1 265.6 L519.9 264.3 L519.3 263.0 L520.9 261.9 L520.6 260.6 L521.9 305.9 L522.9 266.9 L523.1 265.6 L522.7 264.4 L523.5 263.1 L523.0 261.8 L524.3 260.7 L523.9 259.4 L522.8 258.0 L524.4 256.9 L522.4 255.5 L523.7 254.3 L523.4 253.0 L523.1 251.7 L523.8 250.5 L522.8 249.1 L524.7 247.9 L522.9 246.4 L524.3 245.2 L525.3 243.9 L523.5 242.4 L523.8 241.1 L524.9 239.8 L524.7 238.4 L525.1 237.1 L525.6 235.8 L525.0 234.4 L525.3 162.2 L525.5 186.0 L525.3 184.2 L526.6 183.0 L527.1 234.0 L527.6 235.3 L527.6 236.5 L528.3 237.8 L526.3 239.1 L526.6 240.4 L526.7 241.6 L528.5 242.9 L526.5 244.2 L526.8 245.4 L527.5 246.7 L526.8 248.0 L527.5 249.2 L528.1 250.5 L528.4 251.7 L528.1 253.0 L528.6 254.3 L527.6 255.6 L528.0 256.8 L527.0 258.1 L527.2 259.3 L526.8 260.6 L527.2 261.9 L528.3 263.1 L527.6 264.4 L527.9 265.6 L527.1 266.9 L527.8 268.2 L528.4 269.4 L527.5 270.7 L526.8 272.0 L527.9 273.2 L528.8 296.5 L530.1 259.3 L531.0 298.4 L531.3 325.9 L532.2 327.0 L530.9 328.5 L533.1 329.4 L532.7 330.8 L533.0 332.0 L532.6 333.4 L532.1 334.7 L531.7 336.0 L532.2 337.2 L533.3 338.4 L532.1 339.8 L533.5 340.9 L533.8 342.2 L533.2 343.5 L534.1 368.1 L534.9 366.8 L534.5 365.5 L534.7 364.2 L534.7 362.9 L535.3 361.6 L534.4 360.3 L535.2 359.0 L535.0 357.7 L535.4 356.4 L534.6 355.0 L535.3 353.8 L535.0 352.5 L534.5 351.1 L534.4 349.8 L535.3 348.6 L535.1 347.3 L534.2 346.0 L536.2 344.8 L534.5 343.4 L534.2 342.2 L534.5 340.9 L536.5 339.8 L535.2 338.4 L534.7 337.1 L534.5 335.9 L534.6 334.6 L536.2 333.4 L536.1 332.2 L536.4 330.9 L536.5 329.7 L536.0 328.4 L537.1 329.6 L535.9 330.9 L536.6 332.1 L535.6 333.5 L535.6 334.7 L535.5 336.0 L537.6 337.1 L535.7 338.5 L535.7 339.8 L535.7 341.0 L537.8 342.2 L537.6 343.4 L537.0 344.8 L536.2 343.4 L536.1 342.1 L538.1 341.0 L538.1 339.8 L537.8 338.5 L538.3 337.2 L538.0 336.0 L537.2 334.6 L536.9 333.3 L537.0 332.1 L538.0 330.9 L537.5 332.2 L538.8 333.4 L538.6 334.6 L538.4 335.9 L539.5 337.1 L539.0 338.4 L539.0 339.7 L538.0 341.0 L538.9 342.2 L539.0 343.5 L537.6 344.8 L538.7 346.0 L538.0 347.3 L538.6 348.5 L538.9 349.8 L540.3 350.7 L539.9 352.2 L540.2 353.6 L540.5 354.8 L540.0 356.2 L541.0 357.3 L540.5 358.7 L541.0 359.9 L541.8 361.0 L541.4 362.4 L540.9 363.7 L542.5 364.8 L541.3 366.2 L542.6 367.3 L543.0 368.6 L542.8 369.9 L542.4 371.2 L543.0 370.0 L543.5 368.8 L541.9 367.3 L542.9 366.2 L543.0 364.9 L543.7 363.7 L542.7 362.3 L543.4 361.1 L543.6 359.9 L543.4 358.6 L544.5 357.4 L543.4 356.0 L544.9 354.9 L543.7 353.5 L543.6 352.2 L544.8 351.1 L544.5 349.8 L544.6 348.5 L544.6 347.0 L546.1 346.6 L546.3 347.7 L547.1 348.5 L548.1 349.7 L546.8 351.1 L547.1 352.3 L547.1 353.6 L547.5 354.8 L548.2 356.0 L548.1 357.3 L548.7 358.5 L549.0 359.8 L548.5 361.3 L549.6 362.4 L550.7 363.1 L549.8 364.7 L550.9 365.5 L551.9 366.2 L552.9 367.3 L552.8 368.6 L552.9 369.9 L552.0 371.3 L552.9 372.5 L553.1 373.7 L554.0 374.2 L554.6 375.0 L555.7 373.9 L555.1 372.3 L555.9 371.2 L556.0 369.9 L556.4 368.7 L557.0 367.5 L557.2 366.2 L557.2 364.9 L557.2 363.6 L557.2 362.3 L557.5 361.0 L557.5 359.7 L558.4 358.6 L558.0 360.0 L558.6 361.2 L558.7 362.5 L560.0 363.5 L559.7 364.9 L560.0 366.2 L559.6 367.7 L560.1 369.0 L561.0 370.2 L560.6 371.6 L560.1 373.1 L560.9 374.3 L561.1 373.1 L561.5 372.0 L562.5 371.2 L562.5 370.0 L563.6 369.1 L564.2 368.1 L564.1 366.8 L564.9 368.1 L565.1 369.5 L565.2 371.0 L565.0 372.4 L565.6 371.6 L566.6 371.2 L567.6 371.1 L568.5 370.9 L569.9 370.8 L571.0 371.8 L572.3 371.9 L573.5 372.4 L574.4 373.5 L573.7 375.1 L574.8 376.0 L574.5 377.2 L575.5 378.4 L574.3 379.7 L575.7 380.9 L575.4 382.2 L574.6 383.5 L574.9 384.7 L575.1 385.9 L575.5 387.1 L576.4 388.3 L577.1 389.6 L578.1 390.5 L578.1 391.8 L578.8 392.8 L578.6 391.3 L579.0 389.9 L579.6 388.5 L580.0 387.1 L581.1 386.8 L581.8 387.8 L583.0 388.3 L584.1 389.0 L585.0 389.8 L586.2 389.9 L587.1 389.0 L587.5 387.8 L588.4 386.8 L588.9 385.6 L589.9 386.0 L591.0 386.5 L592.0 385.2 L593.5 384.9 L593.9 383.6 L593.8 382.2 L594.5 381.0 L595.0 379.7 L594.5 378.3 L594.8 377.0 L595.8 376.5 L596.7 375.8 L597.9 375.1 L598.6 373.9 L598.6 372.5 L598.4 371.2 L599.4 369.9 L599.8 368.6 L599.8 367.3 L599.9 365.9 L600.3 364.6 L599.8 363.2 L600.4 362.0 L600.6 360.7 L600.5 359.4 L600.5 358.1 L601.1 356.9 L601.9 355.7 L601.4 354.0 L602.7 353.1 L603.1 354.4 L602.6 355.9 L602.9 357.3 L603.3 358.6 L604.2 359.9 L604.0 361.3 L604.0 360.0 L604.2 358.6 L604.7 357.4 L604.4 356.0 L605.1 354.7 L605.8 353.5 L604.4 352.0 L605.5 350.8 L605.9 349.5 L605.5 348.1 L606.5 325.9 L606.9 327.2 L606.7 328.5 L605.7 330.0 L608.0 331.1 L606.9 332.5 L607.9 333.8 L606.5 335.3 L606.2 336.6 L607.4 337.9 L607.6 336.6 L606.8 335.2 L608.1 334.1 L608.2 332.8 L608.3 331.6 L607.8 332.9 L608.4 334.1 L608.2 335.4 L607.8 336.7 L608.7 337.9 L609.0 339.1 L607.8 340.5 L609.7 341.6 L608.6 342.9 L609.4 344.1 L609.3 345.4 L609.0 346.8 L610.8 347.7 L610.3 349.2 L609.4 350.7 L611.0 351.7 L611.9 352.9 L611.1 354.4 L610.8 353.0 L611.2 351.7 L610.4 350.3 L611.4 349.0 L611.5 347.7 L612.3 346.4 L611.6 345.0 L611.5 343.7 L611.5 342.4 L612.9 341.1 L612.4 339.8 L611.5 341.2 L612.7 342.5 L613.5 343.7 L612.3 345.3 L613.4 346.5 L614.0 347.8 L614.3 349.1 L613.7 350.6 L613.5 352.0 L613.8 353.3 L614.5 354.5 L615.2 355.6 L615.6 356.9 L615.9 355.7 L615.5 354.3 L617.3 353.3 L616.3 351.8 L616.8 350.6 L617.2 352.0 L617.5 353.4 L618.7 354.4 L618.2 355.7 L619.0 356.9 L619.5 358.1 L619.1 359.4 L620.1 360.6 L618.8 362.0 L619.9 363.2 L619.1 364.5 L620.3 365.7 L620.0 367.0 L620.8 365.9 L621.9 365.1 L622.6 366.1 L622.6 367.3 L623.3 368.3 L623.9 369.4 L623.4 370.8 L623.9 369.5 L623.2 368.1 L623.3 366.7 L623.5 365.4 L623.9 364.1 L623.9 362.8 L624.4 361.5 L624.6 360.1 L624.4 358.8 L625.1 359.7 L624.6 361.2 L625.9 361.9 L625.5 363.3 L627.2 364.3 L626.1 365.8 L626.3 367.1 L626.8 368.3 L627.5 369.5 L628.5 370.6 L627.8 372.2 L628.8 373.3 L629.7 372.5 L630.3 371.4 L631.4 372.4 L631.7 373.7 L630.5 375.3 L631.6 376.4 L632.2 375.4 L632.0 374.1 L632.2 372.9 L633.2 372.0 L633.2 370.5 L633.9 369.3 L634.8 368.2 L635.6 367.2 L635.2 365.9 L635.1 364.7 L636.8 363.9 L636.3 362.6 L636.5 363.8 L637.6 364.4 L637.2 363.1 L638.8 362.1 L638.6 360.7 L639.2 359.5 L638.9 358.1 L639.5 357.2 L640.3 356.3 L639.9 355.0 L639.8 356.5 L640.2 357.8 L641.4 358.8 L642.2 359.9 L641.5 361.4 L642.1 362.6 L641.9 363.9 L642.6 365.1 L643.6 388.4 L643.7 387.1 L644.4 385.9 L644.1 384.6 L643.8 383.3 L643.9 382.0 L643.9 380.8 L644.5 379.6 L644.0 378.2 L644.8 377.0 L645.6 376.4 L646.4 375.8 L646.9 374.2 L648.3 373.3 L648.9 372.3 L649.6 371.4 L649.7 370.1 L650.0 368.9 L650.7 367.7 L649.4 366.2 L651.1 365.2 L650.6 363.8 L650.8 362.6 L651.3 361.3 L651.8 360.1 L652.4 358.9 L652.1 357.5 L652.6 358.7 L652.7 360.0 L652.0 361.5 L653.9 362.4 L653.4 363.8 L654.0 362.7 L654.4 361.6 L653.6 360.1 L655.1 359.3 L655.6 358.2 L655.6 356.9 L655.3 358.3 L656.9 358.8 L657.1 360.0 L657.2 361.6 L658.7 361.9 L659.5 362.9 L660.3 363.8 L661.6 363.8 L662.2 362.6 L661.5 361.1 L663.0 359.9 L663.0 358.6 L662.6 357.2 L663.8 356.0 L663.0 354.5 L663.4 353.2 L663.7 351.9 L664.5 350.9 L665.3 350.0 L666.4 349.4 L666.6 348.1 L667.9 349.0 L668.2 350.6 L668.5 351.8 L668.7 353.1 L668.6 354.4 L668.3 355.7 L669.5 356.8 L668.6 358.2 L669.5 359.4 L671.0 360.0 L671.8 359.3 L672.9 358.8 L673.3 357.5 L673.4 356.1 L674.3 355.0 L674.8 353.7 L676.0 352.5 L675.6 350.9 L676.1 349.5 L675.7 348.0 L675.5 346.7 L675.6 345.5 L675.7 344.2 L676.6 343.0 L676.8 341.8 L677.4 340.6 L675.8 339.1 L677.5 338.1 L678.1 336.9 L677.4 335.6 L677.5 334.3 L677.0 332.6 L678.1 331.6 L679.1 330.5 L678.0 329.2 L678.5 327.9 L680.3 326.8 L679.7 325.5 L679.9 324.2 L680.2 323.0 L680.6 321.7 L679.7 320.4 L680.5 319.5 L681.0 318.5 L681.3 317.3 L681.1 318.6 L681.1 320.0 L681.4 321.3 L681.3 322.6 L682.5 323.9 L681.6 325.3 L682.2 326.5 L681.6 327.9 L682.3 329.2 L683.5 328.6 L684.2 302.9 L685.4 304.1 L685.4 305.5 L684.9 307.0 L683.8 305.6 L685.7 304.4 L686.0 303.1 L685.5 301.7 L684.8 300.4 L686.0 299.1 L685.9 297.8 L685.4 296.5 L684.8 295.1 L684.9 293.8 L685.3 292.5 L685.1 291.2 L685.4 289.8 L685.9 288.6 L686.7 287.3 L685.7 285.9 L686.4 252.0 L685.4 250.7 L686.7 249.5 L685.5 248.2 L685.8 246.9 L687.5 245.8 L687.0 244.5 L687.9 243.3 L687.0 242.0 L687.6 242.0 L687.8 243.2 L688.9 244.5 L688.0 245.7 L687.6 247.0 L686.8 248.3 L686.8 249.6 L688.0 250.8 L688.2 252.0 L689.0 253.2 L687.8 254.6 L688.9 255.8 L689.1 257.0 L688.3 258.3 L689.5 259.6 L689.6 260.9 L688.1 262.3 L689.5 263.6 L687.5 265.0 L689.7 266.3 L687.9 267.7 L689.7 268.9 L690.0 270.3 L688.4 271.7 L689.0 273.0 L689.8 304.5 L689.3 303.2 L690.5 302.0 L689.3 300.6 L689.0 299.3 L690.8 298.1 L690.8 296.8 L691.2 295.6 L691.0 294.3 L689.5 292.9 L690.9 291.7 L691.1 290.4 L690.6 289.1 L691.8 287.9 L690.3 286.5 L692.0 285.3 L691.0 284.0 L691.7 252.0 L692.2 250.7 L690.6 249.3 L690.6 248.0 L692.1 246.7 L692.6 245.3 L690.8 244.0 L691.4 242.7 L692.4 241.3 L691.1 240.0 L692.8 238.7 L691.9 237.3 L690.9 236.0 L691.6 234.7 L692.2 233.3 L692.0 232.0 L692.5 230.8 L693.3 229.8 L693.6 260.0 L693.2 261.3 L694.5 262.5 L693.0 263.8 L694.1 265.1 L693.4 266.4 L693.5 267.6 L694.0 268.9 L694.2 270.2 L693.2 271.5 L692.9 272.7 L693.3 274.0 L693.9 275.3 L694.6 276.5 L695.1 277.8 L693.0 279.1 L693.7 280.3 L694.2 281.6 L695.1 280.4 L694.0 279.1 L694.8 277.9 L695.7 276.8 L695.5 275.5 L695.0 274.2 L694.9 273.0 L694.5 271.7 L694.8 270.4 L695.9 269.1 L694.8 267.7 L695.5 266.5 L695.4 265.1 L696.1 263.8 L695.9 262.5 L694.7 261.2 L694.1 259.8 L694.7 258.5 L695.2 257.2 L695.6 255.9 L696.2 254.6 L696.4 253.3 L695.5 252.0 L694.5 250.7 L696.5 249.6 L696.6 248.3 L696.8 247.1 L696.2 245.8 L695.6 244.5 L697.1 243.3 L696.4 242.0 L695.7 243.3 L696.1 244.6 L695.6 245.9 L697.0 247.2 L697.6 248.5 L696.6 249.8 L696.0 251.1 L697.5 252.4 L696.3 253.7 L696.9 255.0 L695.9 256.3 L697.6 257.5 L696.8 258.8 L696.6 260.0 L697.2 261.2 L697.9 262.5 L697.8 263.7 L696.6 265.0 L696.6 266.3 L697.4 267.5 L698.3 268.7 L697.4 270.0 L696.7 271.4 L696.9 272.7 L698.2 274.0 L697.4 275.3 L696.7 276.7 L696.8 278.0 L697.7 279.3 L697.9 280.6 L697.7 282.0 L698.7 283.2 L698.0 284.6 L697.3 283.2 L697.4 281.9 L698.7 280.7 L698.0 279.3 L698.5 278.0 L698.2 276.7 L698.6 275.4 L697.8 274.0 L697.6 272.7 L700.0 271.5 L698.5 270.1 L698.0 268.8 L699.0 267.5 L700.4 267.9 L701.8 267.7 L702.4 311.1 L703.2 309.8 L701.7 308.4 L702.9 307.2 L702.4 305.9 L702.9 304.6 L701.8 303.2 L701.9 301.9 L704.3 300.8 L704.1 299.5 L703.2 298.1 L703.5 296.8 L702.9 295.5 L704.2 294.2 L703.4 292.9 L703.7 291.6 L702.9 293.0 L703.5 294.2 L703.6 295.5 L703.5 296.8 L705.4 297.8 L706.2 298.9 L705.3 300.4 L705.9 334.9 L706.7 336.1 L706.8 337.4 L707.0 338.6 L707.2 339.9 L706.0 341.2 L705.3 342.5 L706.3 343.7 L705.3 345.0 L705.4 346.3 L707.4 347.4 L706.2 348.8 L706.5 350.0 L706.4 348.7 L705.9 347.4 L707.9 346.4 L706.4 344.9 L707.3 343.8 L707.6 342.5 L708.5 341.4 L707.5 340.0 L707.2 341.3 L708.0 342.5 L708.0 343.8 L708.8 345.0 L707.1 346.4 L708.3 347.6 L709.5 346.4 L707.9 345.0 L707.6 343.7 L708.2 342.5 L708.5 341.2 L709.0 340.0 L710.3 339.0 L709.7 337.4 L708.8 338.7 L709.0 340.0 L710.9 341.2 L709.2 342.5 L709.5 343.8 L709.7 345.0 L708.9 346.3 L711.1 347.5 L710.9 348.8 L709.6 350.1 L709.3 351.4 L710.3 352.6 L710.1 354.1 L711.1 355.5 L710.9 357.0 L711.3 355.7 L711.9 354.3 L710.8 352.7 L711.5 351.4 L712.1 350.1 L713.0 351.2 L713.7 352.4 L713.4 353.9 L713.7 355.3 L714.7 356.5 L714.8 357.9 L715.3 359.3 L714.9 360.8 L715.3 359.5 L714.1 358.1 L715.6 356.8 L714.6 355.4 L714.3 354.1 L716.3 352.9 L714.9 351.5 L716.5 350.2 L716.4 348.9 L715.7 347.5 L716.7 346.2 L715.0 344.8 L715.8 343.5 L715.0 342.1 L717.1 340.9 L717.0 339.5 L716.5 338.2 L716.3 336.8 L716.6 338.0 L717.0 339.2 L716.0 340.6 L717.0 341.7 L717.1 342.9 L717.5 341.7 L716.4 340.3 L716.6 339.1 L716.3 337.8 L717.9 336.6 L717.6 335.3 L716.6 334.0 L718.4 332.9 L717.0 331.5 L717.4 330.3 L716.9 329.0 L717.2 327.8 L717.8 326.5 L719.4 325.8 L719.7 324.0 L720.3 325.2 L720.9 326.4 L720.3 327.8 L720.9 329.0 L719.8 330.5 L720.9 331.6 L720.1 330.2 L722.3 329.1 L720.2 327.7 L722.3 326.6 L721.9 325.3 L720.9 323.9 L721.6 322.7 L721.8 321.5 L722.4 322.7 L722.6 323.9 L722.9 325.2 L722.6 326.5 L721.3 327.9 L721.4 329.2 L721.7 330.4 L722.8 331.6 L723.9 332.7 L723.6 334.0 L722.2 335.4 L724.3 336.5 L722.9 337.9 L724.0 339.1 L722.5 340.5 L724.9 341.5 L723.1 343.0 L724.3 344.1 L724.1 345.4 L723.3 344.1 L723.0 342.8 L725.1 341.7 L724.4 340.4 L723.7 339.1 L724.4 337.9 L725.6 336.7 L724.0 335.3 L724.9 334.1 L723.9 332.8 L724.1 331.5 L725.6 330.3 L725.5 329.1 L725.1 327.8 L724.5 326.4 L724.4 325.1 L724.5 323.9 L725.9 322.8 L725.8 321.5 L726.0 320.2 L725.8 318.8 L725.9 317.5 L727.2 316.5 L727.2 315.2 L727.8 313.9 L728.1 312.6 L727.7 311.2 L726.8 309.8 L726.6 308.4 L728.3 307.2 L727.6 305.8 L727.9 304.5 L727.4 305.8 L729.2 307.0 L727.5 308.5 L728.7 309.7 L727.6 311.1 L727.7 312.5 L728.7 313.7 L729.9 314.9 L727.9 316.4 L729.1 317.6 L729.1 319.0 L730.2 317.8 L728.9 316.4 L728.9 315.1 L730.6 314.0 L729.7 312.6 L729.4 311.3 L730.1 310.1 L730.8 308.9 L730.8 307.6 L732.0 308.8 L730.9 310.2 L731.2 311.4 L731.1 312.7 L732.1 313.9 L730.8 315.2 L730.6 316.5 L730.6 317.8 L732.0 318.9 L731.1 320.3 L732.0 321.5 L731.2 322.8 L731.9 324.0 L733.3 324.9 L731.9 326.8 L732.1 328.1 L733.5 329.0 L733.7 330.3 L733.7 331.6 L733.8 332.8 L733.9 334.1 L735.2 335.2 L733.1 336.7 L735.0 337.8 L734.4 339.1 L735.4 340.2 L735.8 341.5 L735.7 342.8 L735.4 344.2 L735.0 345.4 L736.0 346.3 L735.7 344.6 L737.3 343.8 L738.4 344.9 L737.2 346.4 L738.5 347.5 L739.1 348.7 L738.0 350.1 L738.2 351.4 L738.6 352.6 L738.9 353.9 L739.0 355.2 L739.8 356.4 L739.5 354.8 L740.7 353.9 L740.1 355.2 L740.5 356.5 L742.0 357.8 L741.9 359.1 L741.3 360.5 L741.4 361.8 L741.9 363.1 L742.3 364.4 L741.7 365.8 L741.7 364.4 L741.4 363.0 L742.4 361.8 L743.1 360.5 L741.9 359.0 L742.9 357.7 L743.0 356.4 L743.8 355.4 L742.9 354.0 L744.6 353.3 L744.2 352.0 L743.5 353.4 L744.8 354.6 L745.0 356.0 L744.3 357.4 L745.1 358.7 L745.6 360.0 L744.7 361.4 L745.7 362.7 L746.4 361.5 L745.7 360.1 L745.7 358.8 L746.0 357.6 L746.3 356.4 L747.6 355.2 L746.8 353.9 L746.3 355.3 L746.3 356.7 L746.8 358.0 L746.9 359.4 L748.7 360.5 L748.0 362.0 L748.4 360.6 L749.5 359.4 L749.8 358.0 L749.3 356.4 L749.1 355.0 L749.7 353.8 L750.5 352.7 L750.2 351.3 L750.9 350.1 L751.2 348.8 L752.3 349.9 L751.8 351.3 L751.9 352.6 L753.2 353.7 L752.4 355.1 L753.5 356.1 L752.4 357.9 L753.7 358.9 L754.2 360.5 L755.6 361.4 L754.9 362.8 L755.7 364.0 L755.6 365.3 L755.6 366.5 L755.8 367.8 L757.5 368.9 L756.8 370.2 L756.8 371.7 L757.5 373.0 L757.0 374.5 L757.5 375.9 L757.8 374.5 L758.7 373.4 L759.7 372.5 L760.6 371.5 L760.1 372.9 L760.8 374.0 L761.6 375.2 L761.4 376.5 L761.6 377.8 L761.8 379.0 L761.2 380.4 L762.2 381.5 L762.3 382.8 L762.0 384.1 L762.8 385.3 L762.2 386.6 L762.5 387.9 L763.6 388.2 L764.4 387.2 L765.0 386.2 L765.4 385.0 L766.3 384.1 L766.9 383.0 L767.6 382.0 L768.2 380.9 L769.2 379.8 L770.7 379.7 L771.6 380.8 L772.0 382.0 L771.9 383.4 L772.8 384.4 L773.3 385.5 L773.8 386.6 L773.9 385.4 L774.1 384.3 L774.2 383.1 L775.1 382.2 L775.4 383.5 L775.5 384.9 L776.4 386.0 L778.0 385.8 L779.5 385.3 L780.6 384.8 L781.7 384.3 L782.6 383.4 L783.2 384.8 L782.7 386.3 L783.2 387.6 L783.3 389.0 L783.5 390.4 L784.8 389.6 L785.8 388.5 L787.0 387.8 L788.3 387.2 L789.9 387.2 L791.5 387.6 L791.3 386.3 L791.5 385.1 L792.1 384.0 L792.1 382.7 L792.5 381.6 L793.0 380.3 L792.9 379.0 L793.8 378.2 L794.6 377.1 L796.0 378.0 L796.2 379.7 L796.5 378.3 L797.7 377.4 L797.7 375.9 L798.7 376.7 L798.9 378.0 L799.6 379.0 L799.9 380.1 L800.6 381.0 L800.6 382.2 L801.4 381.0 L800.5 379.6 L801.3 378.4 L800.5 377.1 L800.4 375.8 L801.8 374.7 L801.2 373.4 L800.7 372.1 L801.5 370.9 L802.4 370.4 L803.4 370.2 L804.2 368.9 L805.3 367.7 L805.5 369.0 L807.1 369.5 L807.2 370.9 L807.4 369.7 L808.4 369.0 L808.2 370.4 L809.0 371.3 L810.4 372.1 L810.3 373.4 L811.1 372.5 L812.2 372.1 L813.1 373.0 L813.4 374.4 L814.3 375.3 L814.7 374.0 L815.3 372.8 L815.5 371.6 L815.2 370.2 L815.8 369.0 L815.6 367.7 L816.8 367.8 L817.9 367.1 L818.1 368.4 L819.2 369.2 L819.8 370.2 L821.4 370.4 L822.9 369.6 L822.8 370.9 L822.7 372.2 L824.2 373.3 L823.8 374.6 L825.4 374.0 L825.8 375.1 L826.9 375.3 L827.6 373.7 L829.2 373.4 L830.4 373.1 L831.1 372.1 L832.4 373.4 L832.6 372.0 L832.6 370.7 L833.5 369.4 L833.0 368.0 L832.8 366.6 L833.6 365.3 L833.2 363.9 L834.6 363.1 L834.9 361.4 L835.7 360.2 L836.1 358.9 L837.1 360.1" fill="none" stroke="#f7931a" stroke-width="1.2" stroke-linejoin="bevel" stroke-linecap="butt"/>
<path d="M138.4 401.2 L138.4 413.5 L138.8 412.5 L141.3 405.6 L144.5 409.0 L149.5 409.0 L150.2 399.3 L152.0 396.8 L152.9 384.8 L153.9 369.2 L154.8 380.5 L155.8 375.5 L157.1 376.8 L158.7 384.3 L160.2 378.0 L162.1 374.9 L164.0 373.0 L165.9 365.4 L167.2 354.1 L168.2 346.5 L170.3 350.3 L173.4 351.6 L175.6 356.6 L177.2 347.8 L178.5 337.2 L179.8 324.6 L181.0 318.3 L181.6 312.0 L181.6 302.2 L183.5 300.9 L184.8 274.4 L185.4 285.8 L186.7 284.5 L188.6 290.8 L191.7 290.8 L193.6 298.4 L194.2 305.9 L195.5 295.9 L197.4 302.2 L199.3 309.7 L200.5 312.0 L201.8 314.5 L203.7 320.8 L204.3 330.3 L205.6 322.1 L208.1 332.1 L210.0 324.6 L213.1 320.8 L215.6 312.0 L216.2 305.8 L218.4 307.7 L220.3 309.6 L221.6 316.5 L224.7 312.1 L227.9 314.0 L230.4 312.3 L234.2 313.3 L236.7 312.1 L238.6 308.3 L240.4 307.0 L243.0 302.0 L244.9 298.2 L246.8 291.9 L248.0 303.3 L249.0 295.7 L251.8 292.7 L255.0 294.0 L258.1 297.1 L260.6 294.6 L263.1 291.4 L265.7 292.1 L268.8 291.4 L270.7 284.5 L273.2 275.1 L275.1 270.7 L276.8 263.1 L278.9 255.6 L280.1 248.0 L281.2 230.0 L281.8 244.4 L282.0 256.2 L283.3 239.4 L284.6 247.0 L286.4 244.4 L288.3 242.6 L290.2 246.3 L292.1 248.0 L293.4 256.8 L294.0 251.8 L297.2 250.5 L299.7 248.0 L302.2 242.6 L304.7 243.2 L306.0 247.0 L307.2 244.4 L308.5 239.4 L309.8 233.1 L311.0 228.1 L312.0 219.3 L312.9 209.2 L313.8 200.4 L314.8 195.3 L315.8 197.8 L316.7 205.4 L317.6 211.7 L318.6 204.2 L320.1 199.7 L321.7 201.6 L324.2 202.9 L325.5 206.7 L326.8 209.8 L328.6 206.7 L330.5 208.6 L331.8 213.0 L333.4 219.9 L334.7 213.0 L336.2 215.5 L338.1 214.9 L340.0 210.4 L341.6 206.7 L343.1 209.8 L346.3 207.3 L349.4 208.6 L351.3 211.1 L352.6 213.6 L354.5 213.0 L356.0 214.2 L356.0 213.6 L357.3 217.4 L358.8 221.8 L360.4 218.0 L362.3 221.2 L363.8 220.5 L364.6 216.8 L365.8 220.5 L367.6 218.6 L369.6 221.8 L371.7 223.7 L373.0 227.4 L373.9 235.6 L374.9 226.2 L376.1 230.6 L378.7 228.7 L380.6 226.8 L381.8 224.3 L383.7 227.4 L386.9 230.6 L389.4 228.7 L391.9 228.7 L393.8 230.0 L396.3 228.1 L398.2 225.6 L399.4 223.7 L401.3 224.9 L403.6 226.2 L405.4 231.6 L407.0 229.3 L408.9 230.0 L411.4 228.7 L413.7 225.6 L414.9 222.4 L415.8 217.4 L416.7 222.4 L418.3 221.2 L420.2 217.4 L421.5 214.2 L423.4 214.9 L425.0 214.9 L426.5 219.9 L428.4 219.3 L430.1 218.6 L431.6 215.5 L433.5 217.4 L435.4 217.0 L438.5 217.0 L441.0 214.5 L442.9 214.9 L444.8 215.5 L445.7 211.1 L446.9 207.9 L447.9 203.5 L448.9 208.6 L450.2 206.0 L451.7 206.7 L453.6 207.3 L454.9 211.1 L456.8 209.8 L458.6 209.8 L459.9 207.9 L461.8 208.6 L464.3 207.9 L466.6 206.7 L467.8 204.2 L469.0 204.8 L469.0 204.8 L471.5 203.9 L474.0 202.9 L475.9 199.1 L477.2 195.3 L478.1 202.9 L480.3 197.8 L482.9 196.6 L485.4 192.2 L487.3 194.1 L488.5 199.1 L490.4 194.7 L492.9 192.8 L494.8 187.8 L496.1 184.0 L497.3 178.6 L499.2 174.2 L501.1 177.3 L503.6 177.9 L504.9 183.6 L506.1 175.4 L507.4 171.6 L508.7 166.6 L511.2 163.4 L512.5 166.6 L513.7 171.6 L515.6 167.9 L517.5 160.3 L519.4 159.0 L520.6 154.0 L521.9 157.8 L523.2 151.5 L524.4 147.1 L525.4 138.9 L526.6 133.2 L527.6 140.2 L529.5 135.7 L530.7 140.8 L532.0 143.3 L533.2 146.4 L534.1 155.9 L535.1 147.1 L537.0 144.6 L538.3 147.1 L540.2 150.2 L541.4 153.4 L542.4 156.5 L543.9 150.2 L545.8 148.3 L547.7 150.2 L550.2 154.0 L552.8 156.5 L554.6 159.0 L556.5 155.9 L558.4 152.1 L560.3 157.8 L562.2 157.2 L563.7 154.6 L565.4 157.2 L568.5 156.8 L571.0 156.8 L573.5 157.5 L574.8 160.3 L575.8 166.6 L577.3 169.8 L578.8 171.6 L580.5 167.9 L582.0 168.5 L584.1 167.0 L586.6 168.2 L589.1 167.0 L592.9 167.0 L594.1 163.2 L595.4 161.3 L597.9 160.1 L599.2 156.9 L600.5 152.5 L602.3 151.2 L604.2 152.5 L605.5 148.1 L606.8 141.8 L608.0 144.3 L609.3 143.7 L610.5 148.7 L612.4 144.3 L614.0 147.4 L615.6 148.1 L617.5 146.8 L619.1 148.1 L620.0 151.9 L621.9 151.9 L623.4 153.8 L624.4 148.7 L625.9 150.0 L627.5 153.1 L628.8 155.0 L630.3 154.4 L631.6 156.3 L633.2 154.4 L634.8 151.9 L636.3 150.0 L637.6 150.6 L638.9 148.1 L639.9 147.1 L641.4 148.7 L642.6 150.6 L643.6 163.2 L644.8 157.5 L646.4 156.3 L648.3 155.0 L649.6 154.4 L650.8 150.0 L652.1 148.1 L653.4 149.3 L655.6 148.1 L657.1 148.7 L660.3 150.0 L662.2 149.3 L663.7 144.9 L665.3 144.3 L666.6 143.7 L668.2 144.6 L669.5 146.8 L671.0 147.1 L672.9 146.6 L674.8 144.9 L676.0 142.4 L677.5 139.3 L679.2 136.1 L680.0 135.2 L681.5 135.9 L682.8 134.0 L683.8 130.8 L685.0 127.0 L686.0 122.0 L686.9 117.0 L688.2 120.8 L689.5 123.3 L690.7 118.2 L692.0 113.2 L693.0 110.0 L694.1 114.5 L695.4 108.8 L697.0 111.3 L698.9 108.8 L700.8 107.5 L702.7 112.6 L704.6 110.0 L705.8 117.0 L707.1 120.1 L709.0 118.2 L710.9 122.0 L712.5 120.8 L714.3 123.3 L715.0 123.9 L715.9 117.6 L717.8 114.5 L719.7 112.6 L721.6 111.9 L723.5 115.1 L724.3 117.0 L725.6 111.3 L727.2 106.9 L728.9 108.2 L730.4 106.3 L732.3 108.8 L733.9 110.7 L735.4 113.8 L737.3 112.6 L738.9 115.1 L740.5 117.0 L741.7 120.1 L743.0 115.7 L744.5 117.6 L746.1 115.7 L747.8 118.9 L749.3 117.0 L751.2 113.8 L752.4 116.3 L753.7 117.6 L755.6 118.2 L756.8 122.6 L757.8 124.8 L759.4 123.9 L760.9 123.3 L761.9 128.3 L762.9 133.3 L764.4 132.7 L766.3 130.8 L768.2 128.9 L770.0 128.3 L771.7 130.8 L773.2 133.1 L774.7 131.4 L776.4 133.6 L779.5 133.3 L781.4 132.1 L782.6 131.4 L783.5 137.4 L785.8 136.5 L788.3 135.6 L791.5 136.1 L792.5 132.1 L793.0 131.4 L792.9 130.2 L794.6 128.9 L796.2 130.8 L797.7 128.1 L799.6 130.2 L800.6 132.1 L801.5 125.5 L803.4 124.8 L805.3 123.9 L807.2 125.2 L808.4 124.5 L810.3 125.8 L812.2 125.8 L814.3 127.3 L815.6 123.9 L817.9 123.0 L819.8 123.9 L822.9 124.3 L823.8 127.0 L825.4 126.8 L826.9 127.3 L829.2 125.8 L831.1 125.5 L832.4 125.8 L833.2 121.4 L834.9 120.1 L836.1 118.9 L837.1 119.5" fill="none" stroke="#2b2b2b" stroke-width="1.7" stroke-linejoin="bevel" stroke-linecap="butt"/>
<path d="M138.4 401.2 L138.5 402.6 L138.3 403.9 L137.8 405.3 L138.5 406.7 L138.4 408.0 L138.3 409.4 L138.9 410.8 L138.4 412.2 L138.4 413.5 L138.8 412.5 L139.4 411.4 L140.1 410.4 L139.5 408.8 L140.2 407.8 L140.3 406.5 L141.3 405.6 L141.8 406.8 L142.7 407.5 L144.2 407.7 L144.5 409.0 L145.7 409.8 L147.0 409.7 L148.3 409.2 L149.5 409.0 L149.8 407.6 L149.2 406.2 L149.0 404.8 L149.9 403.5 L149.3 402.0 L149.6 400.7 L150.2 399.3 L150.8 397.8 L152.0 396.8 L151.4 395.4 L152.2 394.1 L152.2 392.8 L153.0 391.5 L152.6 390.1 L152.9 388.8 L152.7 387.5 L153.1 386.2 L152.9 384.8 L152.9 383.5 L152.7 382.2 L154.0 381.0 L154.0 379.7 L153.9 378.3 L153.8 377.0 L153.2 375.7 L153.2 374.4 L153.3 373.1 L153.1 371.8 L154.3 370.5 L153.9 369.2 L154.2 370.4 L153.6 371.8 L154.4 373.0 L153.6 374.3 L153.9 375.5 L155.3 376.7 L155.1 378.0 L154.1 379.3 L154.8 380.5 L155.0 379.3 L156.1 378.2 L155.4 376.7 L155.8 375.5 L157.1 376.8 L158.0 377.9 L157.4 379.3 L157.5 380.6 L158.5 381.7 L159.1 382.9 L158.7 384.3 L158.8 383.0 L160.0 382.0 L160.0 380.6 L159.3 379.1 L160.2 378.0 L160.5 376.8 L160.9 375.6 L162.1 374.9 L162.6 373.4 L164.0 373.0 L164.8 371.8 L164.1 370.3 L165.0 369.2 L165.2 367.9 L165.1 366.6 L165.9 365.4 L166.4 364.2 L165.6 362.8 L166.5 361.7 L165.8 360.3 L166.5 359.1 L166.3 357.8 L166.5 356.6 L167.8 355.4 L167.2 354.1 L167.8 352.9 L167.2 351.5 L168.3 350.4 L167.4 349.0 L167.8 347.8 L168.2 346.5 L168.4 348.1 L169.4 349.2 L170.3 350.3 L171.6 350.1 L172.1 351.9 L173.4 351.6 L174.4 352.6 L174.9 353.9 L174.7 355.5 L175.6 356.6 L175.6 355.3 L175.7 354.0 L175.6 352.7 L175.9 351.4 L176.9 350.3 L176.6 349.0 L177.2 347.8 L177.5 346.5 L177.3 345.1 L177.6 343.8 L178.6 342.6 L178.0 341.2 L178.3 339.9 L178.9 338.6 L178.5 337.2 L178.1 335.9 L178.2 334.6 L179.5 333.5 L179.5 332.2 L178.7 330.9 L178.8 329.6 L179.8 328.4 L180.2 327.2 L179.1 325.8 L179.8 324.6 L180.7 323.5 L180.9 322.2 L180.7 320.8 L180.6 319.5 L181.0 318.3 L180.5 317.0 L180.5 315.7 L182.1 314.6 L181.1 313.2 L181.6 312.0 L182.0 310.8 L181.3 309.5 L182.2 308.3 L181.8 307.1 L181.3 305.9 L181.1 304.6 L182.0 303.4 L181.6 302.2 L182.2 301.0 L183.5 300.9 L184.8 274.4 L185.3 275.7 L184.8 277.0 L184.4 278.3 L184.9 279.5 L185.5 280.7 L184.5 282.0 L185.8 283.2 L186.1 284.5 L185.4 285.8 L186.7 284.5 L187.4 285.7 L187.5 287.0 L188.5 288.1 L188.7 289.4 L188.6 290.8 L190.1 290.6 L191.7 290.8 L191.9 292.1 L192.9 293.2 L192.9 294.5 L192.4 296.0 L192.5 297.3 L193.6 298.4 L193.5 299.7 L193.5 300.9 L193.8 302.2 L194.6 303.4 L194.9 304.6 L194.2 305.9 L193.6 304.6 L195.2 303.5 L195.0 302.2 L195.6 301.0 L194.3 299.5 L195.4 298.4 L195.3 297.1 L195.5 295.9 L195.5 297.2 L196.5 298.3 L195.9 299.9 L197.7 300.7 L197.4 302.2 L197.6 303.4 L197.6 304.8 L197.7 306.1 L198.3 307.3 L198.6 308.5 L199.3 309.7 L199.5 311.1 L200.5 312.0 L200.6 313.5 L201.8 314.5 L202.4 315.7 L202.3 317.1 L202.3 318.5 L202.7 319.7 L203.7 320.8 L203.9 322.2 L203.4 323.5 L203.4 324.9 L203.9 326.2 L203.9 327.6 L204.4 328.9 L204.3 330.3 L204.7 328.9 L204.9 327.6 L204.3 326.1 L205.4 324.8 L206.1 323.6 L205.6 322.1 L205.3 323.5 L205.8 324.7 L206.7 325.8 L206.5 327.2 L207.0 328.4 L207.6 329.6 L207.2 331.0 L208.1 332.1 L207.8 330.7 L209.1 329.7 L208.3 328.2 L209.5 327.1 L209.6 325.8 L210.0 324.6 L210.4 323.4 L211.8 322.9 L212.3 321.8 L213.1 320.8 L213.7 319.6 L214.5 318.5 L213.8 316.9 L213.8 315.6 L214.6 314.4 L215.6 313.3 L215.6 312.0 L215.3 310.7 L215.3 309.5 L216.6 308.3 L216.3 307.0 L216.2 305.8 L217.3 306.7 L218.4 307.7 L218.9 309.1 L220.3 309.6 L220.8 310.9 L220.5 312.4 L221.5 313.6 L221.4 315.1 L221.6 316.5 L222.7 315.7 L223.7 314.7 L224.4 313.5 L224.7 312.1 L225.9 312.6 L226.7 313.5 L227.9 314.0 L229.0 312.9 L230.4 312.3 L231.8 312.1 L232.9 313.0 L234.2 313.3 L235.7 313.2 L236.7 312.1 L237.8 311.1 L238.2 309.7 L238.6 308.3 L239.9 308.3 L240.4 307.0 L240.8 305.6 L241.2 304.3 L242.3 303.2 L243.0 302.0 L243.3 300.6 L243.8 299.3 L244.9 298.2 L245.1 296.9 L245.8 295.8 L246.0 294.4 L246.1 293.1 L246.8 291.9 L246.4 293.2 L246.3 294.5 L247.2 295.7 L248.0 296.9 L248.2 298.1 L247.0 299.5 L248.5 300.7 L247.5 302.0 L248.0 303.3 L248.3 302.0 L248.0 300.7 L249.0 299.5 L247.9 298.1 L248.3 296.9 L249.0 295.7 L249.9 294.7 L250.3 293.2 L251.8 292.7 L252.7 293.6 L254.1 293.2 L255.0 294.0 L256.4 294.6 L257.6 295.6 L258.1 297.1 L259.1 296.4 L259.7 295.4 L260.6 294.6 L261.6 293.7 L262.5 292.7 L263.1 291.4 L264.3 292.2 L265.7 292.1 L267.4 292.5 L268.8 291.4 L269.4 290.4 L269.0 289.0 L269.7 288.0 L269.6 286.7 L269.6 285.5 L270.7 284.5 L271.0 283.3 L271.7 282.2 L271.2 280.8 L271.6 279.7 L272.0 278.6 L272.9 277.5 L272.9 276.3 L273.2 275.1 L273.9 274.0 L274.6 273.0 L274.5 271.7 L275.1 270.7 L275.8 269.5 L276.3 268.3 L275.3 266.8 L276.9 265.8 L276.8 264.4 L276.8 263.1 L276.5 261.7 L277.4 260.6 L278.0 259.4 L278.8 258.3 L278.3 256.8 L278.9 255.6 L279.2 254.3 L279.9 253.1 L280.0 251.9 L280.4 250.6 L279.9 249.3 L280.1 248.0 L280.5 246.7 L279.8 245.4 L280.7 244.2 L280.9 242.9 L280.7 241.6 L280.9 240.3 L280.2 239.0 L281.4 237.7 L281.6 236.5 L281.6 235.2 L281.0 233.8 L281.5 232.6 L280.8 231.2 L281.2 230.0 L280.6 231.3 L280.7 232.6 L281.6 233.9 L282.1 235.2 L281.5 236.5 L281.4 237.9 L281.1 239.2 L281.6 240.5 L282.4 241.8 L281.2 243.2 L281.8 244.4 L282.5 245.7 L281.4 247.1 L282.4 248.4 L282.2 249.7 L281.5 251.0 L282.5 252.3 L282.5 253.6 L282.0 254.9 L282.0 256.2 L282.5 254.9 L282.8 253.7 L282.6 252.3 L283.1 251.1 L282.5 249.7 L283.3 248.5 L282.1 247.1 L282.4 245.8 L283.0 244.6 L282.7 243.3 L283.5 242.0 L283.4 240.7 L283.3 239.4 L283.5 240.7 L283.2 242.0 L283.8 243.2 L284.4 244.4 L284.5 245.7 L284.6 247.0 L285.9 246.0 L286.4 244.4 L287.8 244.0 L288.3 242.6 L289.4 243.6 L289.1 245.3 L290.2 246.3 L290.7 247.7 L292.1 248.0 L292.3 249.2 L292.4 250.5 L293.1 251.7 L292.8 253.0 L293.0 254.3 L293.0 255.6 L293.4 256.8 L292.8 255.5 L294.4 254.4 L293.9 253.0 L294.0 251.8 L295.0 251.2 L296.3 251.4 L297.2 250.5 L298.1 249.7 L298.8 248.8 L299.7 248.0 L300.5 247.0 L300.1 245.5 L301.2 244.8 L301.6 243.6 L302.2 242.6 L303.3 243.6 L304.7 243.2 L304.5 244.7 L305.9 245.6 L306.0 247.0 L306.6 245.7 L307.2 244.4 L307.0 243.0 L307.8 241.9 L308.7 240.8 L308.5 239.4 L309.4 238.3 L309.0 236.9 L309.0 235.6 L309.0 234.3 L309.8 233.1 L310.2 231.9 L311.0 230.8 L310.1 229.2 L311.0 228.1 L311.6 226.9 L310.5 225.5 L311.0 224.2 L311.2 223.0 L312.0 221.8 L311.6 220.5 L312.0 219.3 L311.9 218.0 L312.4 216.8 L311.7 215.4 L312.8 214.3 L312.0 212.9 L312.7 211.7 L312.4 210.4 L312.9 209.2 L312.5 207.9 L313.2 206.7 L313.2 205.4 L313.2 204.1 L313.4 202.9 L313.7 201.6 L313.8 200.4 L313.5 199.0 L313.8 197.8 L314.7 196.6 L314.8 195.3 L315.1 196.7 L315.8 197.8 L315.9 199.1 L315.5 200.4 L316.1 201.7 L315.8 203.0 L317.0 204.1 L316.7 205.4 L316.5 206.7 L316.5 208.0 L316.6 209.3 L317.7 210.4 L317.6 211.7 L317.4 210.4 L318.6 209.3 L317.6 207.9 L319.0 206.8 L319.0 205.5 L318.6 204.2 L318.4 202.9 L318.9 201.8 L320.0 201.0 L320.1 199.7 L321.2 200.4 L321.7 201.6 L323.3 201.7 L324.2 202.9 L324.1 204.3 L325.2 205.4 L325.5 206.7 L325.5 207.9 L326.9 208.5 L326.8 209.8 L327.2 208.7 L328.3 207.9 L328.6 206.7 L330.1 207.1 L330.5 208.6 L331.3 209.5 L330.9 210.8 L330.8 212.0 L331.8 213.0 L331.4 214.5 L333.0 215.6 L332.8 217.1 L332.7 218.6 L333.4 219.9 L333.7 218.5 L334.2 217.2 L333.7 215.6 L333.8 214.2 L334.7 213.0 L336.0 213.9 L336.2 215.5 L336.9 214.5 L338.1 214.9 L338.6 213.8 L339.1 212.7 L339.6 211.6 L340.0 210.4 L340.0 209.0 L340.6 207.7 L341.6 206.7 L342.5 207.5 L342.1 209.0 L343.1 209.8 L344.7 209.6 L345.7 208.7 L346.3 207.3 L347.6 207.1 L348.6 207.5 L349.4 208.6 L349.8 210.3 L351.3 211.1 L352.0 212.3 L352.6 213.6 L353.6 213.7 L354.5 213.0 L355.4 213.4 L356.0 214.2 L356.0 213.6 L356.5 214.8 L356.8 216.1 L357.3 217.4 L357.7 218.4 L357.9 219.6 L359.1 220.4 L358.8 221.8 L359.6 220.7 L360.4 219.5 L360.4 218.0 L361.5 218.8 L361.7 220.1 L362.3 221.2 L363.8 220.5 L364.4 219.3 L364.2 218.0 L364.6 216.8 L365.4 217.9 L365.9 219.1 L365.8 220.5 L366.7 219.6 L367.6 218.6 L368.9 219.3 L368.4 221.1 L369.6 221.8 L370.4 223.1 L371.7 223.7 L371.8 225.0 L372.0 226.4 L373.0 227.4 L372.9 228.8 L373.4 230.2 L373.3 231.6 L373.6 232.9 L373.0 234.4 L373.9 235.6 L374.5 234.3 L373.8 232.9 L375.0 231.7 L374.8 230.3 L375.0 228.9 L375.2 227.6 L374.9 226.2 L375.4 227.3 L374.9 228.6 L375.3 229.7 L376.1 230.6 L377.6 229.9 L378.7 228.7 L379.9 228.1 L380.6 226.8 L381.6 225.7 L381.8 224.3 L382.6 225.3 L382.8 226.6 L383.7 227.4 L385.2 228.0 L386.0 229.4 L386.9 230.6 L388.1 229.6 L389.4 228.7 L390.6 227.9 L391.9 228.7 L393.0 229.1 L393.8 230.0 L395.2 229.2 L396.3 228.1 L397.4 226.9 L398.2 225.6 L398.5 224.4 L399.4 223.7 L400.0 224.9 L401.3 224.9 L402.3 225.8 L403.6 226.2 L404.3 227.5 L404.2 229.0 L404.8 230.3 L405.4 231.6 L406.2 230.5 L407.0 229.3 L408.0 229.5 L408.9 230.0 L410.5 230.1 L411.4 228.7 L412.4 227.8 L413.2 226.8 L413.7 225.6 L414.5 224.7 L415.2 223.7 L414.9 222.4 L414.4 221.0 L415.6 219.9 L416.0 218.7 L415.8 217.4 L416.4 218.6 L416.4 219.9 L417.2 221.0 L416.7 222.4 L417.2 221.4 L418.3 221.2 L418.8 219.8 L419.0 218.3 L420.2 217.4 L420.3 216.2 L421.7 215.5 L421.5 214.2 L422.4 214.6 L423.4 214.9 L425.0 214.9 L425.4 216.1 L425.1 217.6 L426.0 218.7 L426.5 219.9 L427.7 220.3 L428.4 219.3 L430.1 218.6 L430.8 217.7 L431.5 216.8 L431.6 215.5 L433.0 216.0 L433.5 217.4 L434.4 217.3 L435.4 217.0 L436.9 217.4 L438.5 217.0 L438.8 215.6 L440.7 215.8 L441.0 214.5 L442.1 214.1 L442.9 214.9 L443.9 215.1 L444.8 215.5 L444.6 213.9 L445.4 212.5 L445.7 211.1 L446.3 210.1 L445.9 208.7 L446.9 207.9 L448.0 206.6 L447.5 205.0 L447.9 203.5 L448.2 204.8 L448.3 206.1 L448.9 207.3 L448.9 208.6 L449.3 207.1 L450.2 206.0 L451.7 206.7 L452.6 207.2 L453.6 207.3 L453.9 208.6 L454.8 209.7 L454.9 211.1 L456.0 210.7 L456.8 209.8 L457.7 209.5 L458.6 209.8 L458.6 208.4 L459.9 207.9 L461.0 207.9 L461.8 208.6 L462.9 207.5 L464.3 207.9 L465.2 206.8 L466.6 206.7 L467.6 205.6 L467.8 204.2 L469.0 204.8 L469.0 204.8 L470.2 204.2 L471.5 203.9 L473.0 204.0 L474.0 202.9 L475.0 201.8 L474.7 200.0 L475.9 199.1 L477.1 198.1 L477.4 196.8 L477.2 195.3 L478.0 196.5 L476.8 197.9 L477.7 199.1 L477.8 200.4 L477.2 201.7 L478.1 202.9 L478.3 201.5 L479.2 200.4 L480.4 199.4 L480.3 197.8 L481.8 197.5 L482.9 196.6 L483.4 195.5 L484.8 194.8 L485.2 193.5 L485.4 192.2 L486.2 193.3 L487.3 194.1 L488.2 195.2 L487.7 196.6 L488.3 197.8 L488.5 199.1 L488.6 197.8 L488.8 196.6 L490.0 195.8 L490.4 194.7 L491.3 193.3 L492.9 192.8 L493.3 191.5 L494.1 190.4 L494.3 189.0 L494.8 187.8 L494.9 186.4 L495.8 185.3 L496.1 184.0 L496.3 182.6 L497.1 181.4 L497.1 179.9 L497.3 178.6 L498.5 177.8 L499.0 176.6 L499.1 175.4 L499.2 174.2 L500.2 175.0 L501.0 175.9 L501.1 177.3 L502.2 178.2 L503.6 177.9 L503.5 179.4 L504.1 180.8 L504.8 182.1 L504.9 183.6 L504.7 182.2 L505.6 180.9 L505.6 179.5 L505.9 178.2 L506.2 176.8 L506.1 175.4 L507.0 174.3 L506.5 172.7 L507.4 171.6 L507.3 170.3 L508.8 169.3 L509.0 168.0 L508.7 166.6 L510.0 165.9 L509.8 164.0 L511.2 163.4 L512.3 164.2 L512.4 165.4 L512.5 166.6 L512.9 167.8 L512.9 169.2 L514.0 170.2 L513.7 171.6 L514.4 170.4 L514.4 168.8 L515.6 167.9 L515.3 166.4 L516.5 165.4 L516.6 164.1 L517.1 162.9 L517.0 161.5 L517.5 160.3 L518.4 159.6 L519.4 159.0 L519.2 157.7 L519.8 156.5 L520.7 155.4 L520.6 154.0 L520.5 155.4 L522.1 156.3 L521.9 157.8 L521.6 156.4 L522.9 155.4 L522.9 154.0 L523.3 152.8 L523.2 151.5 L523.0 150.3 L523.7 149.3 L523.7 148.1 L524.4 147.1 L525.1 145.8 L524.5 144.3 L525.2 143.0 L525.9 141.7 L525.0 140.2 L525.4 138.9 L525.8 137.5 L526.4 136.1 L526.9 134.8 L526.6 133.2 L526.9 134.6 L527.2 136.0 L527.8 137.3 L526.8 138.8 L527.6 140.2 L527.4 138.8 L527.9 137.7 L529.1 136.9 L529.5 135.7 L529.8 137.0 L529.8 138.3 L530.7 139.4 L530.7 140.8 L530.9 142.2 L532.0 143.3 L533.0 144.1 L533.2 145.2 L533.2 146.4 L533.1 147.8 L534.1 149.1 L533.9 150.5 L533.4 151.9 L533.5 153.2 L534.3 154.5 L534.1 155.9 L533.7 154.6 L534.2 153.3 L534.9 152.2 L534.5 150.8 L534.2 149.5 L535.3 148.4 L535.1 147.1 L536.2 145.9 L537.0 144.6 L537.0 146.1 L538.3 147.1 L538.3 148.5 L539.0 149.5 L540.2 150.2 L540.7 151.2 L540.5 152.5 L541.4 153.4 L542.1 154.3 L542.4 155.4 L542.4 156.5 L542.6 155.2 L543.7 154.2 L544.0 152.9 L543.2 151.4 L543.9 150.2 L544.7 149.1 L545.8 148.3 L546.9 149.1 L547.7 150.2 L548.7 151.4 L549.5 152.7 L550.2 154.0 L551.2 154.7 L552.3 155.3 L552.8 156.5 L553.6 157.8 L554.6 159.0 L555.7 158.2 L556.0 157.0 L556.5 155.9 L557.6 154.9 L557.9 153.4 L558.4 152.1 L559.3 153.1 L558.8 154.5 L559.0 155.7 L560.3 156.5 L560.3 157.8 L561.0 156.7 L562.2 157.2 L563.0 155.9 L563.7 154.6 L564.5 155.9 L565.4 157.2 L566.9 157.1 L568.5 156.8 L569.8 157.5 L571.0 156.8 L572.2 157.4 L573.5 157.5 L573.7 159.1 L574.8 160.3 L575.7 161.4 L575.1 162.8 L574.9 164.2 L576.3 165.2 L575.8 166.6 L576.9 167.4 L576.5 168.9 L577.3 169.8 L577.6 171.1 L578.8 171.6 L578.8 170.1 L580.1 169.2 L580.5 167.9 L582.0 168.5 L582.7 167.3 L584.1 167.0 L585.2 168.0 L586.6 168.2 L588.0 167.8 L589.1 167.0 L590.4 166.6 L591.6 166.5 L592.9 167.0 L593.7 165.8 L593.8 164.5 L594.1 163.2 L595.1 162.5 L595.4 161.3 L596.6 160.5 L597.9 160.1 L598.1 158.9 L599.5 158.2 L599.2 156.9 L599.8 155.9 L599.8 154.7 L600.2 153.6 L600.5 152.5 L601.6 152.2 L602.3 151.2 L603.1 152.1 L604.2 152.5 L605.2 151.6 L604.7 150.2 L605.7 149.3 L605.5 148.1 L606.0 146.9 L606.5 145.7 L606.7 144.4 L607.0 143.1 L606.8 141.8 L606.8 143.3 L608.0 144.3 L609.3 143.7 L608.9 145.1 L609.7 146.2 L610.2 147.5 L610.5 148.7 L611.3 147.7 L611.9 146.7 L611.8 145.4 L612.4 144.3 L613.1 145.3 L614.0 146.1 L614.0 147.4 L615.6 148.1 L616.7 147.8 L617.5 146.8 L617.8 148.1 L619.1 148.1 L619.6 149.3 L620.2 150.5 L620.0 151.9 L620.9 151.4 L621.9 151.9 L622.7 152.7 L623.4 153.8 L623.3 152.4 L624.6 151.4 L623.4 149.8 L624.4 148.7 L625.3 149.1 L625.9 150.0 L627.0 150.7 L626.8 152.2 L627.5 153.1 L627.8 154.3 L628.8 155.0 L630.3 154.4 L631.4 155.0 L631.6 156.3 L631.8 154.9 L633.2 154.4 L634.0 153.1 L634.8 151.9 L635.7 151.0 L636.3 150.0 L637.6 150.6 L638.8 149.6 L638.9 148.1 L639.9 147.1 L641.2 147.4 L641.4 148.7 L642.5 149.3 L642.6 150.6 L643.2 151.8 L643.3 153.1 L643.4 154.3 L642.7 155.7 L643.0 156.9 L643.7 158.1 L643.8 159.4 L643.8 160.6 L644.1 161.9 L643.6 163.2 L644.3 161.9 L643.9 160.3 L644.6 159.0 L644.8 157.5 L645.9 157.3 L646.4 156.3 L647.3 155.6 L648.3 155.0 L649.6 154.4 L649.5 153.2 L650.8 152.3 L651.2 151.3 L650.8 150.0 L651.2 148.9 L652.1 148.1 L653.4 149.3 L654.5 148.8 L655.6 148.1 L657.1 148.7 L657.9 149.8 L659.2 149.5 L660.3 150.0 L661.1 149.2 L662.2 149.3 L661.9 148.0 L663.6 147.4 L663.7 146.2 L663.7 144.9 L665.3 144.3 L666.6 143.7 L667.5 143.9 L668.2 144.6 L668.8 145.7 L669.5 146.8 L671.0 147.1 L671.9 146.8 L672.9 146.6 L673.6 145.5 L674.8 144.9 L676.1 144.0 L676.0 142.4 L676.8 141.5 L676.6 140.1 L677.5 139.3 L677.4 137.9 L678.6 137.1 L679.2 136.1 L680.0 135.2 L681.5 135.9 L682.0 134.8 L682.8 134.0 L683.6 133.1 L683.8 132.0 L683.8 130.8 L684.4 129.6 L684.1 128.1 L685.0 127.0 L684.8 125.7 L685.3 124.5 L685.4 123.2 L686.0 122.0 L686.9 120.9 L686.5 119.5 L686.9 118.3 L686.9 117.0 L686.6 118.5 L688.1 119.4 L688.2 120.8 L688.8 122.0 L689.5 123.3 L689.2 121.9 L690.5 120.9 L689.6 119.3 L690.7 118.2 L691.5 117.1 L691.9 115.8 L692.1 114.6 L692.0 113.2 L691.7 111.9 L692.3 111.0 L693.0 110.0 L692.9 111.2 L694.2 112.1 L693.9 113.3 L694.1 114.5 L694.4 113.0 L695.5 111.8 L695.2 110.2 L695.4 108.8 L695.7 110.4 L697.0 111.3 L697.7 109.9 L698.9 108.8 L700.1 108.5 L700.8 107.5 L701.4 108.7 L701.1 110.3 L702.8 111.1 L702.7 112.6 L704.0 111.6 L704.6 110.0 L705.3 111.3 L705.0 112.8 L705.3 114.2 L706.1 115.5 L705.8 117.0 L705.7 118.2 L706.9 119.0 L707.1 120.1 L707.8 119.0 L709.0 118.2 L710.2 119.2 L710.5 120.6 L710.9 122.0 L711.6 121.3 L712.5 120.8 L713.1 122.2 L714.3 123.3 L715.0 123.9 L715.0 122.6 L715.7 121.4 L714.9 120.0 L715.5 118.8 L715.9 117.6 L716.5 116.5 L717.8 115.9 L717.8 114.5 L719.1 113.9 L719.7 112.6 L720.7 112.5 L721.6 111.9 L722.9 112.6 L723.0 113.9 L723.5 115.1 L723.6 116.2 L724.3 117.0 L724.2 115.5 L725.1 114.2 L725.2 112.7 L725.6 111.3 L725.3 109.9 L727.1 109.4 L727.3 108.2 L727.2 106.9 L728.3 107.1 L728.9 108.2 L729.8 107.3 L730.4 106.3 L731.6 107.3 L732.3 108.8 L733.2 109.6 L733.9 110.7 L734.3 111.7 L735.2 112.6 L735.4 113.8 L736.2 113.0 L737.3 112.6 L738.3 113.7 L738.9 115.1 L739.5 116.2 L740.5 117.0 L741.2 117.9 L741.7 118.9 L741.7 120.1 L742.4 119.1 L742.1 117.8 L743.3 117.0 L743.0 115.7 L743.6 116.7 L744.5 117.6 L745.6 116.9 L746.1 115.7 L746.9 116.6 L746.7 118.1 L747.8 118.9 L748.0 117.5 L749.3 117.0 L749.4 115.6 L750.0 114.5 L751.2 113.8 L751.5 115.2 L752.4 116.3 L753.7 117.6 L754.5 118.2 L755.6 118.2 L756.4 119.2 L756.4 120.4 L756.0 121.7 L756.8 122.6 L757.2 123.8 L757.8 124.8 L759.4 123.9 L760.9 123.3 L761.8 124.4 L761.8 125.7 L762.1 126.9 L761.9 128.3 L762.7 129.4 L762.5 130.8 L763.3 131.9 L762.9 133.3 L764.4 132.7 L765.8 132.2 L766.3 130.8 L767.1 129.8 L768.2 128.9 L769.1 128.6 L770.0 128.3 L770.7 129.7 L771.7 130.8 L772.1 132.2 L773.2 133.1 L774.3 132.6 L774.7 131.4 L775.7 132.4 L776.4 133.6 L777.9 133.2 L779.5 133.3 L780.4 132.6 L781.4 132.1 L782.6 131.4 L783.6 132.5 L783.2 133.8 L782.9 135.0 L782.6 136.3 L783.5 137.4 L784.8 137.4 L785.8 136.5 L787.1 136.3 L788.3 135.6 L789.9 136.0 L791.5 136.1 L791.0 134.6 L791.9 133.4 L792.5 132.1 L793.0 131.4 L792.9 130.2 L793.6 129.4 L794.6 128.9 L795.2 130.0 L796.2 130.8 L796.4 129.1 L797.7 128.1 L798.8 129.0 L799.6 130.2 L800.1 131.1 L800.6 132.1 L801.2 130.8 L801.5 129.5 L801.3 128.2 L800.8 126.8 L801.5 125.5 L802.6 125.6 L803.4 124.8 L804.6 124.9 L805.3 123.9 L806.2 124.6 L807.2 125.2 L808.4 124.5 L809.5 125.0 L810.3 125.8 L811.3 125.8 L812.2 125.8 L813.6 126.1 L814.3 127.3 L815.1 126.3 L815.9 125.3 L815.6 123.9 L816.7 123.5 L817.9 123.0 L818.7 123.8 L819.8 123.9 L821.3 124.6 L822.9 124.3 L823.8 125.5 L823.8 127.0 L825.4 126.8 L826.9 127.3 L828.5 127.1 L829.2 125.8 L830.2 125.9 L831.1 125.5 L832.4 125.8 L832.2 124.2 L832.3 122.7 L833.2 121.4 L833.8 120.4 L834.9 120.1 L836.1 118.9 L837.1 119.5" fill="none" stroke="#2b2b2b" stroke-width="1.2" stroke-linejoin="bevel" stroke-linecap="butt"/>
<circle cx="43.3" cy="75.0" r="2.95" fill="#f7931a"/>
<circle cx="127.0" cy="75.0" r="2.95" fill="#333"/>
</svg>
<svg width="904" height="508" viewBox="0 0 904 508" style="position:absolute;left:0;top:0;font-family:'Liberation Sans',sans-serif"><text transform="translate(46.50 132.00) scale(0.92 1)" font-size="9.4" text-anchor="end" fill="#2e2e2e">12.5</text><text transform="translate(46.50 232.00) scale(0.92 1)" font-size="9.4" text-anchor="end" fill="#2e2e2e">7.5</text><text transform="translate(46.50 332.00) scale(0.92 1)" font-size="9.4" text-anchor="end" fill="#2e2e2e">2.5</text><text transform="translate(46.50 432.00) scale(0.92 1)" font-size="9.4" text-anchor="end" fill="#2e2e2e">-2.5</text><text transform="translate(848.70 96.00) scale(1.03 1)" font-size="8.9" text-anchor="start" fill="#2e2e2e">$100k</text><text transform="translate(848.70 107.12) scale(1.03 1)" font-size="8.9" text-anchor="start" fill="#2e2e2e">$60k</text><text transform="translate(848.70 131.03) scale(1.03 1)" font-size="8.9" text-anchor="start" fill="#2e2e2e">$20k</text><text transform="translate(848.70 150.97) scale(1.03 1)" font-size="8.9" text-anchor="start" fill="#2e2e2e">$8k</text><text transform="translate(848.70 166.05) scale(1.03 1)" font-size="8.9" text-anchor="start" fill="#2e2e2e">$4k</text><text transform="translate(848.70 196.22) scale(1.03 1)" font-size="8.9" text-anchor="start" fill="#2e2e2e">$1k</text><text transform="translate(848.70 207.34) scale(1.03 1)" font-size="8.9" text-anchor="start" fill="#2e2e2e">$600</text><text transform="translate(848.70 231.25) scale(1.03 1)" font-size="8.9" text-anchor="start" fill="#2e2e2e">$200</text><text transform="translate(848.70 251.19) scale(1.03 1)" font-size="8.9" text-anchor="start" fill="#2e2e2e">$80</text><text transform="translate(848.70 266.27) scale(1.03 1)" font-size="8.9" text-anchor="start" fill="#2e2e2e">$40</text><text transform="translate(848.70 296.44) scale(1.03 1)" font-size="8.9" text-anchor="start" fill="#2e2e2e">$10</text><text transform="translate(848.70 307.56) scale(1.03 1)" font-size="8.9" text-anchor="start" fill="#2e2e2e">$6</text><text transform="translate(848.70 331.47) scale(1.03 1)" font-size="8.9" text-anchor="start" fill="#2e2e2e">$2</text><text transform="translate(848.70 351.41) scale(1.03 1)" font-size="8.9" text-anchor="start" fill="#2e2e2e">$0.80</text><text transform="translate(848.70 366.49) scale(1.03 1)" font-size="8.9" text-anchor="start" fill="#2e2e2e">$0.40</text><text transform="translate(848.70 396.66) scale(1.03 1)" font-size="8.9" text-anchor="start" fill="#2e2e2e">$0.10</text><text transform="translate(848.70 407.78) scale(1.03 1)" font-size="8.9" text-anchor="start" fill="#2e2e2e">$0.06</text><text transform="translate(848.70 431.69) scale(1.03 1)" font-size="8.9" text-anchor="start" fill="#2e2e2e">$0.02</text><text transform="translate(109.90 454.20) scale(0.92 1)" font-size="10.2" text-anchor="middle" fill="#3a3a3a">2010</text><text transform="translate(162.28 454.20) scale(0.92 1)" font-size="10.2" text-anchor="middle" fill="#3a3a3a">2011</text><text transform="translate(214.67 454.20) scale(0.92 1)" font-size="10.2" text-anchor="middle" fill="#3a3a3a">2012</text><text transform="translate(267.05 454.20) scale(0.92 1)" font-size="10.2" text-anchor="middle" fill="#3a3a3a">2013</text><text transform="translate(319.44 454.20) scale(0.92 1)" font-size="10.2" text-anchor="middle" fill="#3a3a3a">2014</text><text transform="translate(371.82 454.20) scale(0.92 1)" font-size="10.2" text-anchor="middle" fill="#3a3a3a">2015</text><text transform="translate(424.21 454.20) scale(0.92 1)" font-size="10.2" text-anchor="middle" fill="#3a3a3a">2016</text><text transform="translate(476.59 454.20) scale(0.92 1)" font-size="10.2" text-anchor="middle" fill="#3a3a3a">2017</text><text transform="translate(528.98 454.20) scale(0.92 1)" font-size="10.2" text-anchor="middle" fill="#3a3a3a">2018</text><text transform="translate(581.36 454.20) scale(0.92 1)" font-size="10.2" text-anchor="middle" fill="#3a3a3a">2019</text><text transform="translate(633.75 454.20) scale(0.92 1)" font-size="10.2" text-anchor="middle" fill="#3a3a3a">2020</text><text transform="translate(686.13 454.20) scale(0.92 1)" font-size="10.2" text-anchor="middle" fill="#3a3a3a">2021</text><text transform="translate(738.52 454.20) scale(0.92 1)" font-size="10.2" text-anchor="middle" fill="#3a3a3a">2022</text><text transform="translate(790.90 454.20) scale(0.92 1)" font-size="10.2" text-anchor="middle" fill="#3a3a3a">2023</text></svg>
<div id="title" class="t">Bitcoin: MVRV Z-Score</div>
<div class="t lg" style="left:48.6px">MVRV Z-Score</div>
<div class="t lg" style="left:132.6px">Price [USD]</div>
<div id="foot" class="t">© 2023 Glassnode. All Rights Reserved.</div>
<div id="logo" class="t">glassnode</div>
</body></html>
